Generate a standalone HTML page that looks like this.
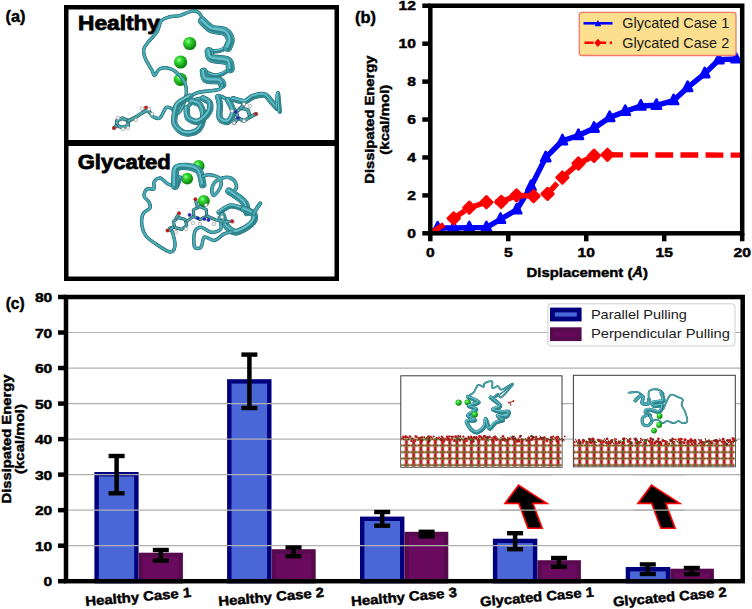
<!DOCTYPE html><html><head><meta charset="utf-8"><style>html,body{margin:0;padding:0;background:#fff;width:752px;height:609px;overflow:hidden}svg{display:block}text{font-family:"Liberation Sans",sans-serif}</style></head><body>
<svg width="752" height="609" viewBox="0 0 752 609">
<text x="5.5" y="21.9" font-size="16" font-weight="bold" fill="#000" text-anchor="start" textLength="20" lengthAdjust="spacingAndGlyphs" stroke="#000" stroke-width="0.45" >(a)</text>
<rect x="66.25" y="7.25" width="270.5" height="271.5" fill="none" stroke="#000" stroke-width="4.5"/>
<rect x="64" y="140" width="275" height="6" fill="#000"/>
<text x="78" y="30.3" font-size="20.5" font-weight="bold" fill="#000" text-anchor="start" textLength="82" lengthAdjust="spacingAndGlyphs" stroke="#000" stroke-width="0.8" >Healthy</text>
<text x="77.7" y="168.9" font-size="20.5" font-weight="bold" fill="#000" text-anchor="start" textLength="93" lengthAdjust="spacingAndGlyphs" stroke="#000" stroke-width="0.8" >Glycated</text>
<defs><radialGradient id="gsph" cx="0.38" cy="0.35" r="0.65"><stop offset="0" stop-color="#aaffaa"/><stop offset="0.3" stop-color="#33dd33"/><stop offset="1" stop-color="#0a7a0a"/></radialGradient></defs>
<circle cx="189.7" cy="43.5" r="6.6" fill="url(#gsph)"/>
<circle cx="180.6" cy="62.0" r="6.6" fill="url(#gsph)"/>
<circle cx="180.4" cy="79.3" r="6.6" fill="url(#gsph)"/>
<path d="M149.2,111.4 C149.9,112.3 151.4,115.6 153.2,116.7 C155.0,117.8 158.0,118.9 159.8,118.0 C161.6,117.1 162.7,113.2 163.8,111.4 C164.9,109.6 165.2,107.9 166.5,107.4 C167.8,107.0 170.2,107.6 171.8,108.7 C173.4,109.8 174.5,113.5 175.8,114.0 C177.1,114.5 178.5,113.2 179.8,111.4 C181.1,109.6 182.7,106.5 183.8,103.4 C184.9,100.3 186.2,96.1 186.4,92.8 C186.6,89.5 186.2,86.4 185.1,83.5 C184.0,80.6 182.2,78.0 179.8,75.5 C177.4,73.0 173.8,69.9 170.5,68.8 C167.2,67.7 162.5,67.7 159.8,68.8 C157.1,69.9 155.8,75.3 154.5,75.5 C153.2,75.7 153.5,73.1 151.9,70.2 C150.3,67.3 146.5,61.8 145.2,58.2 C143.9,54.7 143.2,51.8 143.9,48.9 C144.6,46.0 147.0,43.8 149.2,40.9 C151.4,38.0 155.2,34.9 157.2,31.6 C159.2,28.3 159.2,23.4 161.2,21.0 C163.2,18.6 166.0,17.9 169.1,17.0 C172.2,16.1 176.2,16.5 179.8,15.6 C183.4,14.7 187.5,12.3 190.4,11.6 C193.3,10.9 195.3,10.9 197.1,11.6 C198.9,12.3 200.2,14.0 201.1,15.6 C202.0,17.2 202.2,20.1 202.4,21.0" fill="none" stroke="#1d5e66" stroke-width="3.50" stroke-linecap="round" stroke-linejoin="round"/>
<path d="M149.2,111.4 C149.9,112.3 151.4,115.6 153.2,116.7 C155.0,117.8 158.0,118.9 159.8,118.0 C161.6,117.1 162.7,113.2 163.8,111.4 C164.9,109.6 165.2,107.9 166.5,107.4 C167.8,107.0 170.2,107.6 171.8,108.7 C173.4,109.8 174.5,113.5 175.8,114.0 C177.1,114.5 178.5,113.2 179.8,111.4 C181.1,109.6 182.7,106.5 183.8,103.4 C184.9,100.3 186.2,96.1 186.4,92.8 C186.6,89.5 186.2,86.4 185.1,83.5 C184.0,80.6 182.2,78.0 179.8,75.5 C177.4,73.0 173.8,69.9 170.5,68.8 C167.2,67.7 162.5,67.7 159.8,68.8 C157.1,69.9 155.8,75.3 154.5,75.5 C153.2,75.7 153.5,73.1 151.9,70.2 C150.3,67.3 146.5,61.8 145.2,58.2 C143.9,54.7 143.2,51.8 143.9,48.9 C144.6,46.0 147.0,43.8 149.2,40.9 C151.4,38.0 155.2,34.9 157.2,31.6 C159.2,28.3 159.2,23.4 161.2,21.0 C163.2,18.6 166.0,17.9 169.1,17.0 C172.2,16.1 176.2,16.5 179.8,15.6 C183.4,14.7 187.5,12.3 190.4,11.6 C193.3,10.9 195.3,10.9 197.1,11.6 C198.9,12.3 200.2,14.0 201.1,15.6 C202.0,17.2 202.2,20.1 202.4,21.0" fill="none" stroke="#3fa0aa" stroke-width="2.60" stroke-linecap="round" stroke-linejoin="round"/>
<path d="M149.2,111.4 C149.9,112.3 151.4,115.6 153.2,116.7 C155.0,117.8 158.0,118.9 159.8,118.0 C161.6,117.1 162.7,113.2 163.8,111.4 C164.9,109.6 165.2,107.9 166.5,107.4 C167.8,107.0 170.2,107.6 171.8,108.7 C173.4,109.8 174.5,113.5 175.8,114.0 C177.1,114.5 178.5,113.2 179.8,111.4 C181.1,109.6 182.7,106.5 183.8,103.4 C184.9,100.3 186.2,96.1 186.4,92.8 C186.6,89.5 186.2,86.4 185.1,83.5 C184.0,80.6 182.2,78.0 179.8,75.5 C177.4,73.0 173.8,69.9 170.5,68.8 C167.2,67.7 162.5,67.7 159.8,68.8 C157.1,69.9 155.8,75.3 154.5,75.5 C153.2,75.7 153.5,73.1 151.9,70.2 C150.3,67.3 146.5,61.8 145.2,58.2 C143.9,54.7 143.2,51.8 143.9,48.9 C144.6,46.0 147.0,43.8 149.2,40.9 C151.4,38.0 155.2,34.9 157.2,31.6 C159.2,28.3 159.2,23.4 161.2,21.0 C163.2,18.6 166.0,17.9 169.1,17.0 C172.2,16.1 176.2,16.5 179.8,15.6 C183.4,14.7 187.5,12.3 190.4,11.6 C193.3,10.9 195.3,10.9 197.1,11.6 C198.9,12.3 200.2,14.0 201.1,15.6 C202.0,17.2 202.2,20.1 202.4,21.0" fill="none" stroke="#78d4dc" stroke-width="0.78" stroke-linecap="round" stroke-linejoin="round" opacity="0.5"/>
<path d="M227.7,47.6 C226.1,48.2 221.1,50.4 218.0,51.0 C214.9,51.6 210.5,51.4 209.0,51.5" fill="none" stroke="#1d5e66" stroke-width="4.40" stroke-linecap="round" stroke-linejoin="round"/>
<path d="M227.7,47.6 C226.1,48.2 221.1,50.4 218.0,51.0 C214.9,51.6 210.5,51.4 209.0,51.5" fill="none" stroke="#3fa0aa" stroke-width="3.50" stroke-linecap="round" stroke-linejoin="round"/>
<path d="M227.7,47.6 C226.1,48.2 221.1,50.4 218.0,51.0 C214.9,51.6 210.5,51.4 209.0,51.5" fill="none" stroke="#2a7e87" stroke-width="1.93" stroke-linecap="round" stroke-linejoin="round" transform="translate(0.6,0.8)" opacity="0.8"/>
<path d="M227.7,47.6 C226.1,48.2 221.1,50.4 218.0,51.0 C214.9,51.6 210.5,51.4 209.0,51.5" fill="none" stroke="#78d4dc" stroke-width="0.98" stroke-linecap="round" stroke-linejoin="round" transform="translate(-0.7,-0.9)" opacity="0.75"/>
<path d="M230.3,68.8 C228.9,69.7 224.7,72.9 222.0,74.0 C219.3,75.1 217.5,75.9 214.4,75.5 C211.3,75.1 205.5,72.2 203.7,71.5" fill="none" stroke="#1d5e66" stroke-width="4.40" stroke-linecap="round" stroke-linejoin="round"/>
<path d="M230.3,68.8 C228.9,69.7 224.7,72.9 222.0,74.0 C219.3,75.1 217.5,75.9 214.4,75.5 C211.3,75.1 205.5,72.2 203.7,71.5" fill="none" stroke="#3fa0aa" stroke-width="3.50" stroke-linecap="round" stroke-linejoin="round"/>
<path d="M230.3,68.8 C228.9,69.7 224.7,72.9 222.0,74.0 C219.3,75.1 217.5,75.9 214.4,75.5 C211.3,75.1 205.5,72.2 203.7,71.5" fill="none" stroke="#2a7e87" stroke-width="1.93" stroke-linecap="round" stroke-linejoin="round" transform="translate(0.6,0.8)" opacity="0.8"/>
<path d="M230.3,68.8 C228.9,69.7 224.7,72.9 222.0,74.0 C219.3,75.1 217.5,75.9 214.4,75.5 C211.3,75.1 205.5,72.2 203.7,71.5" fill="none" stroke="#78d4dc" stroke-width="0.98" stroke-linecap="round" stroke-linejoin="round" transform="translate(-0.7,-0.9)" opacity="0.75"/>
<path d="M202.4,21.0 C203.9,22.3 207.9,27.1 211.7,28.9 C215.5,30.7 221.9,29.8 225.0,31.6 C228.1,33.4 229.9,36.9 230.3,39.6 C230.8,42.3 228.1,46.3 227.7,47.6" fill="none" stroke="#1d5e66" stroke-width="8.90" stroke-linecap="round" stroke-linejoin="round"/>
<path d="M202.4,21.0 C203.9,22.3 207.9,27.1 211.7,28.9 C215.5,30.7 221.9,29.8 225.0,31.6 C228.1,33.4 229.9,36.9 230.3,39.6 C230.8,42.3 228.1,46.3 227.7,47.6" fill="none" stroke="#3fa0aa" stroke-width="8.00" stroke-linecap="round" stroke-linejoin="round"/>
<path d="M202.4,21.0 C203.9,22.3 207.9,27.1 211.7,28.9 C215.5,30.7 221.9,29.8 225.0,31.6 C228.1,33.4 229.9,36.9 230.3,39.6 C230.8,42.3 228.1,46.3 227.7,47.6" fill="none" stroke="#2a7e87" stroke-width="4.40" stroke-linecap="round" stroke-linejoin="round" transform="translate(0.6,0.8)" opacity="0.8"/>
<path d="M202.4,21.0 C203.9,22.3 207.9,27.1 211.7,28.9 C215.5,30.7 221.9,29.8 225.0,31.6 C228.1,33.4 229.9,36.9 230.3,39.6 C230.8,42.3 228.1,46.3 227.7,47.6" fill="none" stroke="#78d4dc" stroke-width="2.24" stroke-linecap="round" stroke-linejoin="round" transform="translate(-0.7,-0.9)" opacity="0.75"/>
<path d="M209.0,51.5 C209.4,52.6 208.6,56.6 211.7,58.2 C214.8,59.8 224.6,59.1 227.7,60.9 C230.8,62.7 229.9,67.5 230.3,68.8" fill="none" stroke="#1d5e66" stroke-width="8.90" stroke-linecap="round" stroke-linejoin="round"/>
<path d="M209.0,51.5 C209.4,52.6 208.6,56.6 211.7,58.2 C214.8,59.8 224.6,59.1 227.7,60.9 C230.8,62.7 229.9,67.5 230.3,68.8" fill="none" stroke="#3fa0aa" stroke-width="8.00" stroke-linecap="round" stroke-linejoin="round"/>
<path d="M209.0,51.5 C209.4,52.6 208.6,56.6 211.7,58.2 C214.8,59.8 224.6,59.1 227.7,60.9 C230.8,62.7 229.9,67.5 230.3,68.8" fill="none" stroke="#2a7e87" stroke-width="4.40" stroke-linecap="round" stroke-linejoin="round" transform="translate(0.6,0.8)" opacity="0.8"/>
<path d="M209.0,51.5 C209.4,52.6 208.6,56.6 211.7,58.2 C214.8,59.8 224.6,59.1 227.7,60.9 C230.8,62.7 229.9,67.5 230.3,68.8" fill="none" stroke="#78d4dc" stroke-width="2.24" stroke-linecap="round" stroke-linejoin="round" transform="translate(-0.7,-0.9)" opacity="0.75"/>
<path d="M203.7,71.5 C204.1,72.8 203.7,78.0 206.4,79.5 C209.1,81.0 217.0,79.9 219.7,80.8 C222.3,81.7 221.9,84.1 222.3,84.8" fill="none" stroke="#1d5e66" stroke-width="7.90" stroke-linecap="round" stroke-linejoin="round"/>
<path d="M203.7,71.5 C204.1,72.8 203.7,78.0 206.4,79.5 C209.1,81.0 217.0,79.9 219.7,80.8 C222.3,81.7 221.9,84.1 222.3,84.8" fill="none" stroke="#3fa0aa" stroke-width="7.00" stroke-linecap="round" stroke-linejoin="round"/>
<path d="M203.7,71.5 C204.1,72.8 203.7,78.0 206.4,79.5 C209.1,81.0 217.0,79.9 219.7,80.8 C222.3,81.7 221.9,84.1 222.3,84.8" fill="none" stroke="#2a7e87" stroke-width="3.85" stroke-linecap="round" stroke-linejoin="round" transform="translate(0.6,0.8)" opacity="0.8"/>
<path d="M203.7,71.5 C204.1,72.8 203.7,78.0 206.4,79.5 C209.1,81.0 217.0,79.9 219.7,80.8 C222.3,81.7 221.9,84.1 222.3,84.8" fill="none" stroke="#78d4dc" stroke-width="1.96" stroke-linecap="round" stroke-linejoin="round" transform="translate(-0.7,-0.9)" opacity="0.75"/>
<path d="M222.3,84.8 C221.9,85.5 221.4,88.0 219.9,89.0 C218.4,90.0 216.8,89.9 213.2,90.5 C209.6,91.1 202.1,91.5 198.2,92.5 C194.3,93.5 191.4,95.9 190.0,96.6" fill="none" stroke="#1d5e66" stroke-width="3.70" stroke-linecap="round" stroke-linejoin="round"/>
<path d="M222.3,84.8 C221.9,85.5 221.4,88.0 219.9,89.0 C218.4,90.0 216.8,89.9 213.2,90.5 C209.6,91.1 202.1,91.5 198.2,92.5 C194.3,93.5 191.4,95.9 190.0,96.6" fill="none" stroke="#3fa0aa" stroke-width="2.80" stroke-linecap="round" stroke-linejoin="round"/>
<path d="M222.3,84.8 C221.9,85.5 221.4,88.0 219.9,89.0 C218.4,90.0 216.8,89.9 213.2,90.5 C209.6,91.1 202.1,91.5 198.2,92.5 C194.3,93.5 191.4,95.9 190.0,96.6" fill="none" stroke="#78d4dc" stroke-width="0.84" stroke-linecap="round" stroke-linejoin="round" opacity="0.5"/>
<path d="M203.2,98.3 C201.8,98.6 197.7,98.3 194.9,100.0 C192.1,101.7 188.0,106.9 186.6,108.3" fill="none" stroke="#1d5e66" stroke-width="3.90" stroke-linecap="round" stroke-linejoin="round"/>
<path d="M203.2,98.3 C201.8,98.6 197.7,98.3 194.9,100.0 C192.1,101.7 188.0,106.9 186.6,108.3" fill="none" stroke="#3fa0aa" stroke-width="3.00" stroke-linecap="round" stroke-linejoin="round"/>
<path d="M203.2,98.3 C201.8,98.6 197.7,98.3 194.9,100.0 C192.1,101.7 188.0,106.9 186.6,108.3" fill="none" stroke="#78d4dc" stroke-width="0.90" stroke-linecap="round" stroke-linejoin="round" opacity="0.5"/>
<path d="M228.2,100.0 C227.1,99.4 223.2,97.1 221.5,96.6 C219.8,96.1 218.8,96.9 218.2,97.0" fill="none" stroke="#1d5e66" stroke-width="3.90" stroke-linecap="round" stroke-linejoin="round"/>
<path d="M228.2,100.0 C227.1,99.4 223.2,97.1 221.5,96.6 C219.8,96.1 218.8,96.9 218.2,97.0" fill="none" stroke="#3fa0aa" stroke-width="3.00" stroke-linecap="round" stroke-linejoin="round"/>
<path d="M228.2,100.0 C227.1,99.4 223.2,97.1 221.5,96.6 C219.8,96.1 218.8,96.9 218.2,97.0" fill="none" stroke="#78d4dc" stroke-width="0.90" stroke-linecap="round" stroke-linejoin="round" opacity="0.5"/>
<path d="M190.0,96.6 C188.0,97.8 180.5,101.2 178.0,104.0 C175.5,106.8 175.5,109.7 175.0,113.2 C174.5,116.7 173.3,121.6 175.0,124.9 C176.7,128.2 181.1,132.4 185.0,133.2 C188.9,134.0 195.2,132.7 198.2,129.9 C201.2,127.1 202.9,120.8 203.2,116.6 C203.5,112.4 201.8,107.4 199.9,104.9 C198.0,102.4 193.0,102.1 191.6,101.6" fill="none" stroke="#1d5e66" stroke-width="6.40" stroke-linecap="round" stroke-linejoin="round"/>
<path d="M190.0,96.6 C188.0,97.8 180.5,101.2 178.0,104.0 C175.5,106.8 175.5,109.7 175.0,113.2 C174.5,116.7 173.3,121.6 175.0,124.9 C176.7,128.2 181.1,132.4 185.0,133.2 C188.9,134.0 195.2,132.7 198.2,129.9 C201.2,127.1 202.9,120.8 203.2,116.6 C203.5,112.4 201.8,107.4 199.9,104.9 C198.0,102.4 193.0,102.1 191.6,101.6" fill="none" stroke="#3fa0aa" stroke-width="5.50" stroke-linecap="round" stroke-linejoin="round"/>
<path d="M190.0,96.6 C188.0,97.8 180.5,101.2 178.0,104.0 C175.5,106.8 175.5,109.7 175.0,113.2 C174.5,116.7 173.3,121.6 175.0,124.9 C176.7,128.2 181.1,132.4 185.0,133.2 C188.9,134.0 195.2,132.7 198.2,129.9 C201.2,127.1 202.9,120.8 203.2,116.6 C203.5,112.4 201.8,107.4 199.9,104.9 C198.0,102.4 193.0,102.1 191.6,101.6" fill="none" stroke="#2a7e87" stroke-width="3.03" stroke-linecap="round" stroke-linejoin="round" transform="translate(0.6,0.8)" opacity="0.8"/>
<path d="M190.0,96.6 C188.0,97.8 180.5,101.2 178.0,104.0 C175.5,106.8 175.5,109.7 175.0,113.2 C174.5,116.7 173.3,121.6 175.0,124.9 C176.7,128.2 181.1,132.4 185.0,133.2 C188.9,134.0 195.2,132.7 198.2,129.9 C201.2,127.1 202.9,120.8 203.2,116.6 C203.5,112.4 201.8,107.4 199.9,104.9 C198.0,102.4 193.0,102.1 191.6,101.6" fill="none" stroke="#78d4dc" stroke-width="1.54" stroke-linecap="round" stroke-linejoin="round" transform="translate(-0.7,-0.9)" opacity="0.75"/>
<path d="M186.6,108.3 C186.9,110.0 186.4,116.0 188.3,118.2 C190.2,120.4 194.9,122.4 198.2,121.6 C201.5,120.8 206.2,116.2 208.2,113.2 C210.1,110.2 210.7,105.8 209.9,103.3 C209.1,100.8 204.3,99.1 203.2,98.3" fill="none" stroke="#1d5e66" stroke-width="6.40" stroke-linecap="round" stroke-linejoin="round"/>
<path d="M186.6,108.3 C186.9,110.0 186.4,116.0 188.3,118.2 C190.2,120.4 194.9,122.4 198.2,121.6 C201.5,120.8 206.2,116.2 208.2,113.2 C210.1,110.2 210.7,105.8 209.9,103.3 C209.1,100.8 204.3,99.1 203.2,98.3" fill="none" stroke="#3fa0aa" stroke-width="5.50" stroke-linecap="round" stroke-linejoin="round"/>
<path d="M186.6,108.3 C186.9,110.0 186.4,116.0 188.3,118.2 C190.2,120.4 194.9,122.4 198.2,121.6 C201.5,120.8 206.2,116.2 208.2,113.2 C210.1,110.2 210.7,105.8 209.9,103.3 C209.1,100.8 204.3,99.1 203.2,98.3" fill="none" stroke="#2a7e87" stroke-width="3.03" stroke-linecap="round" stroke-linejoin="round" transform="translate(0.6,0.8)" opacity="0.8"/>
<path d="M186.6,108.3 C186.9,110.0 186.4,116.0 188.3,118.2 C190.2,120.4 194.9,122.4 198.2,121.6 C201.5,120.8 206.2,116.2 208.2,113.2 C210.1,110.2 210.7,105.8 209.9,103.3 C209.1,100.8 204.3,99.1 203.2,98.3" fill="none" stroke="#78d4dc" stroke-width="1.54" stroke-linecap="round" stroke-linejoin="round" transform="translate(-0.7,-0.9)" opacity="0.75"/>
<path d="M218.2,97.0 C218.5,98.3 219.6,101.4 219.9,104.9 C220.2,108.4 218.5,115.4 219.9,118.2 C221.3,121.0 226.0,122.7 228.2,121.6 C230.4,120.5 233.2,115.2 233.2,111.6 C233.2,108.0 229.0,101.9 228.2,100.0" fill="none" stroke="#1d5e66" stroke-width="6.40" stroke-linecap="round" stroke-linejoin="round"/>
<path d="M218.2,97.0 C218.5,98.3 219.6,101.4 219.9,104.9 C220.2,108.4 218.5,115.4 219.9,118.2 C221.3,121.0 226.0,122.7 228.2,121.6 C230.4,120.5 233.2,115.2 233.2,111.6 C233.2,108.0 229.0,101.9 228.2,100.0" fill="none" stroke="#3fa0aa" stroke-width="5.50" stroke-linecap="round" stroke-linejoin="round"/>
<path d="M218.2,97.0 C218.5,98.3 219.6,101.4 219.9,104.9 C220.2,108.4 218.5,115.4 219.9,118.2 C221.3,121.0 226.0,122.7 228.2,121.6 C230.4,120.5 233.2,115.2 233.2,111.6 C233.2,108.0 229.0,101.9 228.2,100.0" fill="none" stroke="#2a7e87" stroke-width="3.03" stroke-linecap="round" stroke-linejoin="round" transform="translate(0.6,0.8)" opacity="0.8"/>
<path d="M218.2,97.0 C218.5,98.3 219.6,101.4 219.9,104.9 C220.2,108.4 218.5,115.4 219.9,118.2 C221.3,121.0 226.0,122.7 228.2,121.6 C230.4,120.5 233.2,115.2 233.2,111.6 C233.2,108.0 229.0,101.9 228.2,100.0" fill="none" stroke="#78d4dc" stroke-width="1.54" stroke-linecap="round" stroke-linejoin="round" transform="translate(-0.7,-0.9)" opacity="0.75"/>
<path d="M233.2,99.0 C235.1,99.4 241.5,102.0 244.8,101.6 C248.1,101.2 249.8,97.7 253.1,96.6 C256.4,95.5 261.6,94.2 264.7,95.0 C267.8,95.8 269.3,99.4 271.4,101.6 C273.4,103.8 276.1,106.9 277.0,108.0" fill="none" stroke="#1d5e66" stroke-width="5.90" stroke-linecap="round" stroke-linejoin="round"/>
<path d="M233.2,99.0 C235.1,99.4 241.5,102.0 244.8,101.6 C248.1,101.2 249.8,97.7 253.1,96.6 C256.4,95.5 261.6,94.2 264.7,95.0 C267.8,95.8 269.3,99.4 271.4,101.6 C273.4,103.8 276.1,106.9 277.0,108.0" fill="none" stroke="#3fa0aa" stroke-width="5.00" stroke-linecap="round" stroke-linejoin="round"/>
<path d="M233.2,99.0 C235.1,99.4 241.5,102.0 244.8,101.6 C248.1,101.2 249.8,97.7 253.1,96.6 C256.4,95.5 261.6,94.2 264.7,95.0 C267.8,95.8 269.3,99.4 271.4,101.6 C273.4,103.8 276.1,106.9 277.0,108.0" fill="none" stroke="#2a7e87" stroke-width="2.75" stroke-linecap="round" stroke-linejoin="round" transform="translate(0.6,0.8)" opacity="0.8"/>
<path d="M233.2,99.0 C235.1,99.4 241.5,102.0 244.8,101.6 C248.1,101.2 249.8,97.7 253.1,96.6 C256.4,95.5 261.6,94.2 264.7,95.0 C267.8,95.8 269.3,99.4 271.4,101.6 C273.4,103.8 276.1,106.9 277.0,108.0" fill="none" stroke="#78d4dc" stroke-width="1.40" stroke-linecap="round" stroke-linejoin="round" transform="translate(-0.7,-0.9)" opacity="0.75"/>
<path d="M277.0,108.0 C277.2,105.5 277.6,92.7 278.0,93.3 C278.4,93.9 279.4,108.5 279.7,111.6" fill="none" stroke="#1d5e66" stroke-width="4.40" stroke-linecap="round" stroke-linejoin="round"/>
<path d="M277.0,108.0 C277.2,105.5 277.6,92.7 278.0,93.3 C278.4,93.9 279.4,108.5 279.7,111.6" fill="none" stroke="#3fa0aa" stroke-width="3.50" stroke-linecap="round" stroke-linejoin="round"/>
<path d="M277.0,108.0 C277.2,105.5 277.6,92.7 278.0,93.3 C278.4,93.9 279.4,108.5 279.7,111.6" fill="none" stroke="#2a7e87" stroke-width="1.93" stroke-linecap="round" stroke-linejoin="round" transform="translate(0.6,0.8)" opacity="0.8"/>
<path d="M277.0,108.0 C277.2,105.5 277.6,92.7 278.0,93.3 C278.4,93.9 279.4,108.5 279.7,111.6" fill="none" stroke="#78d4dc" stroke-width="0.98" stroke-linecap="round" stroke-linejoin="round" transform="translate(-0.7,-0.9)" opacity="0.75"/>
<polyline points="128.2,125.3 122.7,127.8 116.9,125.5 116.8,120.7 122.3,118.2 128.1,120.5 128.2,125.3" fill="none" stroke="#235e64" stroke-width="3.8" stroke-linejoin="round" stroke-linecap="round"/>
<polyline points="128.2,125.3 122.7,127.8 116.9,125.5 116.8,120.7 122.3,118.2 128.1,120.5 128.2,125.3" fill="none" stroke="#4fa8b0" stroke-width="2.4" stroke-linejoin="round" stroke-linecap="round"/>
<polyline points="128.5,121.0 136.0,117.0 142.0,113.0 147.0,110.0 150.0,113.0" fill="none" stroke="#235e64" stroke-width="3.8" stroke-linejoin="round" stroke-linecap="round"/>
<polyline points="128.5,121.0 136.0,117.0 142.0,113.0 147.0,110.0 150.0,113.0" fill="none" stroke="#4fa8b0" stroke-width="2.4" stroke-linejoin="round" stroke-linecap="round"/>
<polyline points="116.0,126.0 114.0,128.0" fill="none" stroke="#235e64" stroke-width="3.8" stroke-linejoin="round" stroke-linecap="round"/>
<polyline points="116.0,126.0 114.0,128.0" fill="none" stroke="#4fa8b0" stroke-width="2.4" stroke-linejoin="round" stroke-linecap="round"/>
<circle cx="114" cy="128" r="1.8" fill="#e01010" stroke="#666" stroke-width="0.4"/>
<circle cx="146" cy="107.5" r="1.8" fill="#e01010" stroke="#666" stroke-width="0.4"/>
<circle cx="142" cy="108.5" r="1.8" fill="#f4f4f4" stroke="#666" stroke-width="0.4"/>
<circle cx="149" cy="109" r="1.8" fill="#f4f4f4" stroke="#666" stroke-width="0.4"/>
<circle cx="128" cy="128" r="1.8" fill="#f4f4f4" stroke="#666" stroke-width="0.4"/>
<circle cx="118" cy="118" r="1.8" fill="#f4f4f4" stroke="#666" stroke-width="0.4"/>
<circle cx="136" cy="120" r="1.8" fill="#f4f4f4" stroke="#666" stroke-width="0.4"/>
<circle cx="152" cy="114" r="1.8" fill="#f4f4f4" stroke="#666" stroke-width="0.4"/>
<circle cx="123" cy="129" r="1.8" fill="#f4f4f4" stroke="#666" stroke-width="0.4"/>
<polyline points="236.0,112.0 241.0,108.0 248.0,110.0 250.0,117.0 244.0,121.0 238.0,118.0 236.0,112.0" fill="none" stroke="#235e64" stroke-width="3.8" stroke-linejoin="round" stroke-linecap="round"/>
<polyline points="236.0,112.0 241.0,108.0 248.0,110.0 250.0,117.0 244.0,121.0 238.0,118.0 236.0,112.0" fill="none" stroke="#4fa8b0" stroke-width="2.4" stroke-linejoin="round" stroke-linecap="round"/>
<polyline points="250.0,117.0 256.0,114.0" fill="none" stroke="#235e64" stroke-width="3.8" stroke-linejoin="round" stroke-linecap="round"/>
<polyline points="250.0,117.0 256.0,114.0" fill="none" stroke="#4fa8b0" stroke-width="2.4" stroke-linejoin="round" stroke-linecap="round"/>
<polyline points="241.0,108.0 244.0,104.0" fill="none" stroke="#235e64" stroke-width="3.8" stroke-linejoin="round" stroke-linecap="round"/>
<polyline points="241.0,108.0 244.0,104.0" fill="none" stroke="#4fa8b0" stroke-width="2.4" stroke-linejoin="round" stroke-linecap="round"/>
<polyline points="238.0,118.0 234.0,123.0" fill="none" stroke="#235e64" stroke-width="3.8" stroke-linejoin="round" stroke-linecap="round"/>
<polyline points="238.0,118.0 234.0,123.0" fill="none" stroke="#4fa8b0" stroke-width="2.4" stroke-linejoin="round" stroke-linecap="round"/>
<circle cx="236" cy="112" r="1.8" fill="#2020d0" stroke="#666" stroke-width="0.4"/>
<circle cx="238" cy="118" r="1.8" fill="#2020d0" stroke="#666" stroke-width="0.4"/>
<circle cx="244" cy="121" r="1.8" fill="#f4f4f4" stroke="#666" stroke-width="0.4"/>
<circle cx="256" cy="114" r="1.8" fill="#e01010" stroke="#666" stroke-width="0.4"/>
<circle cx="244" cy="104" r="1.8" fill="#f4f4f4" stroke="#666" stroke-width="0.4"/>
<circle cx="234" cy="123" r="1.8" fill="#f4f4f4" stroke="#666" stroke-width="0.4"/>
<circle cx="250" cy="106" r="1.8" fill="#f4f4f4" stroke="#666" stroke-width="0.4"/>
<circle cx="232" cy="111" r="1.8" fill="#f4f4f4" stroke="#666" stroke-width="0.4"/>
<circle cx="198.7" cy="165.9" r="5.9" fill="url(#gsph)"/>
<circle cx="187.2" cy="178.6" r="5.9" fill="url(#gsph)"/>
<circle cx="203.8" cy="200.9" r="6.0" fill="url(#gsph)"/>
<path d="M174.9,186.2 C173.8,185.8 170.5,185.4 168.0,184.0 C165.5,182.6 162.3,178.3 160.0,178.0 C157.7,177.7 155.0,180.2 154.0,182.0 C153.0,183.8 155.2,187.8 154.0,189.0 C152.8,190.2 148.7,187.8 147.0,189.0 C145.3,190.2 143.7,193.8 144.0,196.0 C144.3,198.2 148.0,200.0 149.0,202.0 C150.0,204.0 151.0,206.0 150.0,208.0 C149.0,210.0 144.3,211.0 143.0,214.0 C141.7,217.0 141.5,222.3 142.0,226.0 C142.5,229.7 143.7,233.0 146.0,236.0 C148.3,239.0 152.0,241.3 156.0,244.0 C160.0,246.7 166.8,251.7 170.0,252.0 C173.2,252.3 174.5,249.0 175.0,246.0 C175.5,243.0 173.8,237.0 173.0,234.0 C172.2,231.0 170.5,229.0 170.0,228.0" fill="none" stroke="#1d5e66" stroke-width="3.50" stroke-linecap="round" stroke-linejoin="round"/>
<path d="M174.9,186.2 C173.8,185.8 170.5,185.4 168.0,184.0 C165.5,182.6 162.3,178.3 160.0,178.0 C157.7,177.7 155.0,180.2 154.0,182.0 C153.0,183.8 155.2,187.8 154.0,189.0 C152.8,190.2 148.7,187.8 147.0,189.0 C145.3,190.2 143.7,193.8 144.0,196.0 C144.3,198.2 148.0,200.0 149.0,202.0 C150.0,204.0 151.0,206.0 150.0,208.0 C149.0,210.0 144.3,211.0 143.0,214.0 C141.7,217.0 141.5,222.3 142.0,226.0 C142.5,229.7 143.7,233.0 146.0,236.0 C148.3,239.0 152.0,241.3 156.0,244.0 C160.0,246.7 166.8,251.7 170.0,252.0 C173.2,252.3 174.5,249.0 175.0,246.0 C175.5,243.0 173.8,237.0 173.0,234.0 C172.2,231.0 170.5,229.0 170.0,228.0" fill="none" stroke="#3fa0aa" stroke-width="2.60" stroke-linecap="round" stroke-linejoin="round"/>
<path d="M174.9,186.2 C173.8,185.8 170.5,185.4 168.0,184.0 C165.5,182.6 162.3,178.3 160.0,178.0 C157.7,177.7 155.0,180.2 154.0,182.0 C153.0,183.8 155.2,187.8 154.0,189.0 C152.8,190.2 148.7,187.8 147.0,189.0 C145.3,190.2 143.7,193.8 144.0,196.0 C144.3,198.2 148.0,200.0 149.0,202.0 C150.0,204.0 151.0,206.0 150.0,208.0 C149.0,210.0 144.3,211.0 143.0,214.0 C141.7,217.0 141.5,222.3 142.0,226.0 C142.5,229.7 143.7,233.0 146.0,236.0 C148.3,239.0 152.0,241.3 156.0,244.0 C160.0,246.7 166.8,251.7 170.0,252.0 C173.2,252.3 174.5,249.0 175.0,246.0 C175.5,243.0 173.8,237.0 173.0,234.0 C172.2,231.0 170.5,229.0 170.0,228.0" fill="none" stroke="#78d4dc" stroke-width="0.78" stroke-linecap="round" stroke-linejoin="round" opacity="0.5"/>
<path d="M176.5,186.2 C177.1,184.8 179.2,179.4 179.8,178.0" fill="none" stroke="#1d5e66" stroke-width="5.40" stroke-linecap="round" stroke-linejoin="round"/>
<path d="M176.5,186.2 C177.1,184.8 179.2,179.4 179.8,178.0" fill="none" stroke="#3fa0aa" stroke-width="4.50" stroke-linecap="round" stroke-linejoin="round"/>
<path d="M176.5,186.2 C177.1,184.8 179.2,179.4 179.8,178.0" fill="none" stroke="#2a7e87" stroke-width="2.48" stroke-linecap="round" stroke-linejoin="round" transform="translate(0.6,0.8)" opacity="0.8"/>
<path d="M176.5,186.2 C177.1,184.8 179.2,179.4 179.8,178.0" fill="none" stroke="#78d4dc" stroke-width="1.26" stroke-linecap="round" stroke-linejoin="round" transform="translate(-0.7,-0.9)" opacity="0.75"/>
<path d="M174.9,186.2 C174.9,184.5 174.7,179.0 175.0,176.0 C175.3,173.0 174.6,169.7 176.5,168.1 C178.4,166.5 182.8,166.2 186.3,166.5 C189.9,166.8 195.3,168.2 197.8,169.8 C200.3,171.4 200.3,173.8 201.1,176.3 C201.9,178.8 202.5,183.2 202.8,184.6" fill="none" stroke="#1d5e66" stroke-width="7.40" stroke-linecap="round" stroke-linejoin="round"/>
<path d="M174.9,186.2 C174.9,184.5 174.7,179.0 175.0,176.0 C175.3,173.0 174.6,169.7 176.5,168.1 C178.4,166.5 182.8,166.2 186.3,166.5 C189.9,166.8 195.3,168.2 197.8,169.8 C200.3,171.4 200.3,173.8 201.1,176.3 C201.9,178.8 202.5,183.2 202.8,184.6" fill="none" stroke="#3fa0aa" stroke-width="6.50" stroke-linecap="round" stroke-linejoin="round"/>
<path d="M174.9,186.2 C174.9,184.5 174.7,179.0 175.0,176.0 C175.3,173.0 174.6,169.7 176.5,168.1 C178.4,166.5 182.8,166.2 186.3,166.5 C189.9,166.8 195.3,168.2 197.8,169.8 C200.3,171.4 200.3,173.8 201.1,176.3 C201.9,178.8 202.5,183.2 202.8,184.6" fill="none" stroke="#2a7e87" stroke-width="3.58" stroke-linecap="round" stroke-linejoin="round" transform="translate(0.6,0.8)" opacity="0.8"/>
<path d="M174.9,186.2 C174.9,184.5 174.7,179.0 175.0,176.0 C175.3,173.0 174.6,169.7 176.5,168.1 C178.4,166.5 182.8,166.2 186.3,166.5 C189.9,166.8 195.3,168.2 197.8,169.8 C200.3,171.4 200.3,173.8 201.1,176.3 C201.9,178.8 202.5,183.2 202.8,184.6" fill="none" stroke="#78d4dc" stroke-width="1.82" stroke-linecap="round" stroke-linejoin="round" transform="translate(-0.7,-0.9)" opacity="0.75"/>
<path d="M202.8,176.3 C203.9,176.0 206.6,174.4 209.3,174.7 C212.0,175.0 217.3,176.1 219.2,178.0 C221.1,179.9 221.6,183.3 220.8,186.2 C220.0,189.1 215.8,194.4 214.3,195.2 C212.8,196.0 211.8,193.1 211.8,191.1 C211.8,189.1 212.5,185.1 214.3,182.9 C216.1,180.7 219.8,178.8 222.5,178.0 C225.2,177.2 228.5,177.2 230.7,178.0 C232.9,178.8 234.8,181.0 235.6,182.9 C236.4,184.8 236.7,188.1 235.6,189.5 C234.5,190.9 230.1,190.8 229.0,191.1" fill="none" stroke="#1d5e66" stroke-width="3.50" stroke-linecap="round" stroke-linejoin="round"/>
<path d="M202.8,176.3 C203.9,176.0 206.6,174.4 209.3,174.7 C212.0,175.0 217.3,176.1 219.2,178.0 C221.1,179.9 221.6,183.3 220.8,186.2 C220.0,189.1 215.8,194.4 214.3,195.2 C212.8,196.0 211.8,193.1 211.8,191.1 C211.8,189.1 212.5,185.1 214.3,182.9 C216.1,180.7 219.8,178.8 222.5,178.0 C225.2,177.2 228.5,177.2 230.7,178.0 C232.9,178.8 234.8,181.0 235.6,182.9 C236.4,184.8 236.7,188.1 235.6,189.5 C234.5,190.9 230.1,190.8 229.0,191.1" fill="none" stroke="#3fa0aa" stroke-width="2.60" stroke-linecap="round" stroke-linejoin="round"/>
<path d="M202.8,176.3 C203.9,176.0 206.6,174.4 209.3,174.7 C212.0,175.0 217.3,176.1 219.2,178.0 C221.1,179.9 221.6,183.3 220.8,186.2 C220.0,189.1 215.8,194.4 214.3,195.2 C212.8,196.0 211.8,193.1 211.8,191.1 C211.8,189.1 212.5,185.1 214.3,182.9 C216.1,180.7 219.8,178.8 222.5,178.0 C225.2,177.2 228.5,177.2 230.7,178.0 C232.9,178.8 234.8,181.0 235.6,182.9 C236.4,184.8 236.7,188.1 235.6,189.5 C234.5,190.9 230.1,190.8 229.0,191.1" fill="none" stroke="#78d4dc" stroke-width="0.78" stroke-linecap="round" stroke-linejoin="round" opacity="0.5"/>
<path d="M219.2,212.5 C221.1,211.4 226.6,206.5 230.7,205.9 C234.8,205.3 241.6,208.6 243.8,209.2" fill="none" stroke="#1d5e66" stroke-width="5.40" stroke-linecap="round" stroke-linejoin="round"/>
<path d="M219.2,212.5 C221.1,211.4 226.6,206.5 230.7,205.9 C234.8,205.3 241.6,208.6 243.8,209.2" fill="none" stroke="#3fa0aa" stroke-width="4.50" stroke-linecap="round" stroke-linejoin="round"/>
<path d="M219.2,212.5 C221.1,211.4 226.6,206.5 230.7,205.9 C234.8,205.3 241.6,208.6 243.8,209.2" fill="none" stroke="#2a7e87" stroke-width="2.48" stroke-linecap="round" stroke-linejoin="round" transform="translate(0.6,0.8)" opacity="0.8"/>
<path d="M219.2,212.5 C221.1,211.4 226.6,206.5 230.7,205.9 C234.8,205.3 241.6,208.6 243.8,209.2" fill="none" stroke="#78d4dc" stroke-width="1.26" stroke-linecap="round" stroke-linejoin="round" transform="translate(-0.7,-0.9)" opacity="0.75"/>
<path d="M229.0,191.1 C230.7,192.2 236.2,195.5 238.9,197.7 C241.7,199.9 244.1,201.8 245.5,204.3 C246.9,206.8 246.8,211.1 247.1,212.5" fill="none" stroke="#1d5e66" stroke-width="7.40" stroke-linecap="round" stroke-linejoin="round"/>
<path d="M229.0,191.1 C230.7,192.2 236.2,195.5 238.9,197.7 C241.7,199.9 244.1,201.8 245.5,204.3 C246.9,206.8 246.8,211.1 247.1,212.5" fill="none" stroke="#3fa0aa" stroke-width="6.50" stroke-linecap="round" stroke-linejoin="round"/>
<path d="M229.0,191.1 C230.7,192.2 236.2,195.5 238.9,197.7 C241.7,199.9 244.1,201.8 245.5,204.3 C246.9,206.8 246.8,211.1 247.1,212.5" fill="none" stroke="#2a7e87" stroke-width="3.58" stroke-linecap="round" stroke-linejoin="round" transform="translate(0.6,0.8)" opacity="0.8"/>
<path d="M229.0,191.1 C230.7,192.2 236.2,195.5 238.9,197.7 C241.7,199.9 244.1,201.8 245.5,204.3 C246.9,206.8 246.8,211.1 247.1,212.5" fill="none" stroke="#78d4dc" stroke-width="1.82" stroke-linecap="round" stroke-linejoin="round" transform="translate(-0.7,-0.9)" opacity="0.75"/>
<path d="M243.8,209.2 C245.5,210.0 252.0,212.2 253.7,214.1 C255.3,216.0 254.8,218.5 253.7,220.7 C252.6,222.9 250.1,225.3 247.1,227.2 C244.1,229.1 238.9,232.2 235.6,232.2 C232.3,232.2 229.3,229.1 227.4,227.2 C225.5,225.3 224.9,222.6 224.1,220.7 C223.3,218.8 222.8,216.6 222.5,215.8" fill="none" stroke="#1d5e66" stroke-width="6.90" stroke-linecap="round" stroke-linejoin="round"/>
<path d="M243.8,209.2 C245.5,210.0 252.0,212.2 253.7,214.1 C255.3,216.0 254.8,218.5 253.7,220.7 C252.6,222.9 250.1,225.3 247.1,227.2 C244.1,229.1 238.9,232.2 235.6,232.2 C232.3,232.2 229.3,229.1 227.4,227.2 C225.5,225.3 224.9,222.6 224.1,220.7 C223.3,218.8 222.8,216.6 222.5,215.8" fill="none" stroke="#3fa0aa" stroke-width="6.00" stroke-linecap="round" stroke-linejoin="round"/>
<path d="M243.8,209.2 C245.5,210.0 252.0,212.2 253.7,214.1 C255.3,216.0 254.8,218.5 253.7,220.7 C252.6,222.9 250.1,225.3 247.1,227.2 C244.1,229.1 238.9,232.2 235.6,232.2 C232.3,232.2 229.3,229.1 227.4,227.2 C225.5,225.3 224.9,222.6 224.1,220.7 C223.3,218.8 222.8,216.6 222.5,215.8" fill="none" stroke="#2a7e87" stroke-width="3.30" stroke-linecap="round" stroke-linejoin="round" transform="translate(0.6,0.8)" opacity="0.8"/>
<path d="M243.8,209.2 C245.5,210.0 252.0,212.2 253.7,214.1 C255.3,216.0 254.8,218.5 253.7,220.7 C252.6,222.9 250.1,225.3 247.1,227.2 C244.1,229.1 238.9,232.2 235.6,232.2 C232.3,232.2 229.3,229.1 227.4,227.2 C225.5,225.3 224.9,222.6 224.1,220.7 C223.3,218.8 222.8,216.6 222.5,215.8" fill="none" stroke="#78d4dc" stroke-width="1.68" stroke-linecap="round" stroke-linejoin="round" transform="translate(-0.7,-0.9)" opacity="0.75"/>
<path d="M253.7,213.5 C254.2,212.6 255.9,209.7 257.0,208.0 C258.1,206.3 259.7,204.2 260.2,203.5" fill="none" stroke="#1d5e66" stroke-width="4.10" stroke-linecap="round" stroke-linejoin="round"/>
<path d="M253.7,213.5 C254.2,212.6 255.9,209.7 257.0,208.0 C258.1,206.3 259.7,204.2 260.2,203.5" fill="none" stroke="#3fa0aa" stroke-width="3.20" stroke-linecap="round" stroke-linejoin="round"/>
<path d="M253.7,213.5 C254.2,212.6 255.9,209.7 257.0,208.0 C258.1,206.3 259.7,204.2 260.2,203.5" fill="none" stroke="#78d4dc" stroke-width="0.96" stroke-linecap="round" stroke-linejoin="round" opacity="0.5"/>
<path d="M219.2,217.4 C219.5,219.3 222.2,226.4 220.8,228.9 C219.4,231.4 214.3,232.5 211.0,232.2 C207.7,231.9 203.8,227.2 201.1,227.2 C198.4,227.2 195.7,228.9 194.6,232.2 C193.5,235.5 193.5,244.5 194.6,247.0 C195.7,249.5 199.5,248.7 201.1,247.0 C202.7,245.3 202.2,238.2 204.4,237.1 C206.6,236.0 211.0,240.9 214.3,240.4 C217.6,239.9 221.2,235.2 224.1,233.8 C227.0,232.4 230.7,232.3 232.0,232.0" fill="none" stroke="#1d5e66" stroke-width="3.50" stroke-linecap="round" stroke-linejoin="round"/>
<path d="M219.2,217.4 C219.5,219.3 222.2,226.4 220.8,228.9 C219.4,231.4 214.3,232.5 211.0,232.2 C207.7,231.9 203.8,227.2 201.1,227.2 C198.4,227.2 195.7,228.9 194.6,232.2 C193.5,235.5 193.5,244.5 194.6,247.0 C195.7,249.5 199.5,248.7 201.1,247.0 C202.7,245.3 202.2,238.2 204.4,237.1 C206.6,236.0 211.0,240.9 214.3,240.4 C217.6,239.9 221.2,235.2 224.1,233.8 C227.0,232.4 230.7,232.3 232.0,232.0" fill="none" stroke="#3fa0aa" stroke-width="2.60" stroke-linecap="round" stroke-linejoin="round"/>
<path d="M219.2,217.4 C219.5,219.3 222.2,226.4 220.8,228.9 C219.4,231.4 214.3,232.5 211.0,232.2 C207.7,231.9 203.8,227.2 201.1,227.2 C198.4,227.2 195.7,228.9 194.6,232.2 C193.5,235.5 193.5,244.5 194.6,247.0 C195.7,249.5 199.5,248.7 201.1,247.0 C202.7,245.3 202.2,238.2 204.4,237.1 C206.6,236.0 211.0,240.9 214.3,240.4 C217.6,239.9 221.2,235.2 224.1,233.8 C227.0,232.4 230.7,232.3 232.0,232.0" fill="none" stroke="#78d4dc" stroke-width="0.78" stroke-linecap="round" stroke-linejoin="round" opacity="0.5"/>
<polyline points="186.7,225.3 181.6,229.4 174.9,227.6 173.3,221.7 178.4,217.6 185.1,219.4 186.7,225.3" fill="none" stroke="#235e64" stroke-width="3.2" stroke-linejoin="round" stroke-linecap="round"/>
<polyline points="186.7,225.3 181.6,229.4 174.9,227.6 173.3,221.7 178.4,217.6 185.1,219.4 186.7,225.3" fill="none" stroke="#4fa8b0" stroke-width="1.7999999999999998" stroke-linejoin="round" stroke-linecap="round"/>
<polyline points="206.6,216.1 200.2,219.5 193.6,216.4 193.4,209.9 199.8,206.5 206.4,209.6 206.6,216.1" fill="none" stroke="#235e64" stroke-width="3.2" stroke-linejoin="round" stroke-linecap="round"/>
<polyline points="206.6,216.1 200.2,219.5 193.6,216.4 193.4,209.9 199.8,206.5 206.4,209.6 206.6,216.1" fill="none" stroke="#4fa8b0" stroke-width="1.7999999999999998" stroke-linejoin="round" stroke-linecap="round"/>
<polyline points="187.0,221.0 193.0,217.0" fill="none" stroke="#235e64" stroke-width="3.2" stroke-linejoin="round" stroke-linecap="round"/>
<polyline points="187.0,221.0 193.0,217.0" fill="none" stroke="#4fa8b0" stroke-width="1.7999999999999998" stroke-linejoin="round" stroke-linecap="round"/>
<polyline points="207.0,216.0 216.0,220.0 226.0,222.0 232.0,221.0" fill="none" stroke="#235e64" stroke-width="3.2" stroke-linejoin="round" stroke-linecap="round"/>
<polyline points="207.0,216.0 216.0,220.0 226.0,222.0 232.0,221.0" fill="none" stroke="#4fa8b0" stroke-width="1.7999999999999998" stroke-linejoin="round" stroke-linecap="round"/>
<polyline points="173.0,227.0 170.0,230.0 167.5,230.5" fill="none" stroke="#235e64" stroke-width="3.2" stroke-linejoin="round" stroke-linecap="round"/>
<polyline points="173.0,227.0 170.0,230.0 167.5,230.5" fill="none" stroke="#4fa8b0" stroke-width="1.7999999999999998" stroke-linejoin="round" stroke-linecap="round"/>
<polyline points="197.0,206.0 195.4,199.3" fill="none" stroke="#235e64" stroke-width="3.2" stroke-linejoin="round" stroke-linecap="round"/>
<polyline points="197.0,206.0 195.4,199.3" fill="none" stroke="#4fa8b0" stroke-width="1.7999999999999998" stroke-linejoin="round" stroke-linecap="round"/>
<polyline points="176.0,218.0 179.0,213.3" fill="none" stroke="#235e64" stroke-width="3.2" stroke-linejoin="round" stroke-linecap="round"/>
<polyline points="176.0,218.0 179.0,213.3" fill="none" stroke="#4fa8b0" stroke-width="1.7999999999999998" stroke-linejoin="round" stroke-linecap="round"/>
<circle cx="167.5" cy="230.5" r="1.8" fill="#e01010" stroke="#666" stroke-width="0.4"/>
<circle cx="179" cy="213.3" r="1.8" fill="#e01010" stroke="#666" stroke-width="0.4"/>
<circle cx="195.4" cy="199.3" r="1.8" fill="#e01010" stroke="#666" stroke-width="0.4"/>
<circle cx="232.3" cy="221.5" r="1.8" fill="#e01010" stroke="#666" stroke-width="0.4"/>
<circle cx="189.6" cy="215" r="1.8" fill="#2020d0" stroke="#666" stroke-width="0.4"/>
<circle cx="197.8" cy="218.2" r="1.8" fill="#2020d0" stroke="#666" stroke-width="0.4"/>
<circle cx="204.4" cy="219" r="1.8" fill="#2020d0" stroke="#666" stroke-width="0.4"/>
<circle cx="208.5" cy="219.9" r="1.8" fill="#2020d0" stroke="#666" stroke-width="0.4"/>
<circle cx="193" cy="223" r="1.8" fill="#f4f4f4" stroke="#666" stroke-width="0.4"/>
<circle cx="200" cy="224" r="1.8" fill="#f4f4f4" stroke="#666" stroke-width="0.4"/>
<circle cx="186" cy="229" r="1.8" fill="#f4f4f4" stroke="#666" stroke-width="0.4"/>
<circle cx="222" cy="217" r="1.8" fill="#f4f4f4" stroke="#666" stroke-width="0.4"/>
<circle cx="206" cy="205" r="1.8" fill="#f4f4f4" stroke="#666" stroke-width="0.4"/>
<circle cx="176" cy="232" r="1.8" fill="#f4f4f4" stroke="#666" stroke-width="0.4"/>
<circle cx="214" cy="224" r="1.8" fill="#f4f4f4" stroke="#666" stroke-width="0.4"/>
<text x="355" y="22.5" font-size="16" font-weight="bold" fill="#000" text-anchor="start" textLength="21" lengthAdjust="spacingAndGlyphs" stroke="#000" stroke-width="0.45" >(b)</text>
<line x1="422.3" y1="233.30" x2="430.3" y2="233.30" stroke="#000" stroke-width="4.5"/>
<text x="416" y="237.9" font-size="12.5" font-weight="bold" fill="#000" text-anchor="end" textLength="8.7" lengthAdjust="spacingAndGlyphs" stroke="#000" stroke-width="0.45" >0</text>
<line x1="422.3" y1="195.38" x2="430.3" y2="195.38" stroke="#000" stroke-width="4.5"/>
<text x="416" y="199.975" font-size="12.5" font-weight="bold" fill="#000" text-anchor="end" textLength="8.7" lengthAdjust="spacingAndGlyphs" stroke="#000" stroke-width="0.45" >2</text>
<line x1="422.3" y1="157.45" x2="430.3" y2="157.45" stroke="#000" stroke-width="4.5"/>
<text x="416" y="162.04999999999998" font-size="12.5" font-weight="bold" fill="#000" text-anchor="end" textLength="8.7" lengthAdjust="spacingAndGlyphs" stroke="#000" stroke-width="0.45" >4</text>
<line x1="422.3" y1="119.52" x2="430.3" y2="119.52" stroke="#000" stroke-width="4.5"/>
<text x="416" y="124.12499999999999" font-size="12.5" font-weight="bold" fill="#000" text-anchor="end" textLength="8.7" lengthAdjust="spacingAndGlyphs" stroke="#000" stroke-width="0.45" >6</text>
<line x1="422.3" y1="81.60" x2="430.3" y2="81.60" stroke="#000" stroke-width="4.5"/>
<text x="416" y="86.19999999999999" font-size="12.5" font-weight="bold" fill="#000" text-anchor="end" textLength="8.7" lengthAdjust="spacingAndGlyphs" stroke="#000" stroke-width="0.45" >8</text>
<line x1="422.3" y1="43.68" x2="430.3" y2="43.68" stroke="#000" stroke-width="4.5"/>
<text x="416" y="48.27500000000001" font-size="12.5" font-weight="bold" fill="#000" text-anchor="end" textLength="17.4" lengthAdjust="spacingAndGlyphs" stroke="#000" stroke-width="0.45" >10</text>
<line x1="422.3" y1="5.75" x2="430.3" y2="5.75" stroke="#000" stroke-width="4.5"/>
<text x="416" y="10.349999999999971" font-size="12.5" font-weight="bold" fill="#000" text-anchor="end" textLength="17.4" lengthAdjust="spacingAndGlyphs" stroke="#000" stroke-width="0.45" >12</text>
<line x1="430.30" y1="233.3" x2="430.30" y2="241.3" stroke="#000" stroke-width="4.5"/>
<text x="430.3" y="256.8" font-size="12.5" font-weight="bold" fill="#000" text-anchor="middle" textLength="8.7" lengthAdjust="spacingAndGlyphs" stroke="#000" stroke-width="0.45" >0</text>
<line x1="508.28" y1="233.3" x2="508.28" y2="241.3" stroke="#000" stroke-width="4.5"/>
<text x="508.27500000000003" y="256.8" font-size="12.5" font-weight="bold" fill="#000" text-anchor="middle" textLength="8.7" lengthAdjust="spacingAndGlyphs" stroke="#000" stroke-width="0.45" >5</text>
<line x1="586.25" y1="233.3" x2="586.25" y2="241.3" stroke="#000" stroke-width="4.5"/>
<text x="586.25" y="256.8" font-size="12.5" font-weight="bold" fill="#000" text-anchor="middle" textLength="17.4" lengthAdjust="spacingAndGlyphs" stroke="#000" stroke-width="0.45" >10</text>
<line x1="664.23" y1="233.3" x2="664.23" y2="241.3" stroke="#000" stroke-width="4.5"/>
<text x="664.225" y="256.8" font-size="12.5" font-weight="bold" fill="#000" text-anchor="middle" textLength="17.4" lengthAdjust="spacingAndGlyphs" stroke="#000" stroke-width="0.45" >15</text>
<line x1="742.20" y1="233.3" x2="742.20" y2="241.3" stroke="#000" stroke-width="4.5"/>
<text x="742.2" y="256.8" font-size="12.5" font-weight="bold" fill="#000" text-anchor="middle" textLength="17.4" lengthAdjust="spacingAndGlyphs" stroke="#000" stroke-width="0.45" >20</text>
<text x="587.3" y="277.3" font-size="13.5" font-weight="bold" fill="#000" text-anchor="middle" textLength="121.6" lengthAdjust="spacingAndGlyphs" stroke="#000" stroke-width="0.45" >Displacement (<tspan font-style="italic">Å</tspan>)</text>
<text transform="translate(374.3,119.7) rotate(-90)" x="0" y="0" font-size="13.5" font-weight="bold" stroke="#000" stroke-width="0.45" text-anchor="middle" textLength="128" lengthAdjust="spacingAndGlyphs">Dissipated Energy</text>
<text transform="translate(389.2,119.7) rotate(-90)" x="0" y="0" font-size="13.5" font-weight="bold" stroke="#000" stroke-width="0.45" text-anchor="middle" textLength="70" lengthAdjust="spacingAndGlyphs">(kcal/mol)</text>
<clipPath id="cb"><rect x="430.3" y="5.75" width="311.90000000000003" height="227.55"/></clipPath>
<g clip-path="url(#cb)">
<polyline points="430.30,233.30 437.63,227.99 453.69,227.99 469.29,227.61 486.44,227.61 500.48,219.27 516.70,209.79 531.04,186.46 545.70,157.64 562.39,140.76 578.45,135.45 594.05,128.25 609.64,117.44 625.24,111.37 640.83,106.06 656.43,105.30 673.58,100.56 687.62,87.48 704.77,73.64 718.81,59.79 735.96,58.84" fill="none" stroke="#00f" stroke-width="5.4" stroke-linejoin="round"/>
<path d="M437.63,222.19 L442.23,231.44 L433.03,231.44Z" fill="#00f" stroke="#00f" stroke-width="2.6" stroke-linejoin="round"/>
<path d="M453.69,222.19 L458.29,231.44 L449.09,231.44Z" fill="#00f" stroke="#00f" stroke-width="2.6" stroke-linejoin="round"/>
<path d="M469.29,221.81 L473.89,231.06 L464.69,231.06Z" fill="#00f" stroke="#00f" stroke-width="2.6" stroke-linejoin="round"/>
<path d="M486.44,221.81 L491.04,231.06 L481.84,231.06Z" fill="#00f" stroke="#00f" stroke-width="2.6" stroke-linejoin="round"/>
<path d="M500.48,213.47 L505.08,222.72 L495.88,222.72Z" fill="#00f" stroke="#00f" stroke-width="2.6" stroke-linejoin="round"/>
<path d="M516.70,203.99 L521.30,213.24 L512.10,213.24Z" fill="#00f" stroke="#00f" stroke-width="2.6" stroke-linejoin="round"/>
<path d="M531.04,180.66 L535.64,189.91 L526.44,189.91Z" fill="#00f" stroke="#00f" stroke-width="2.6" stroke-linejoin="round"/>
<path d="M545.70,151.84 L550.30,161.09 L541.10,161.09Z" fill="#00f" stroke="#00f" stroke-width="2.6" stroke-linejoin="round"/>
<path d="M562.39,134.96 L566.99,144.21 L557.79,144.21Z" fill="#00f" stroke="#00f" stroke-width="2.6" stroke-linejoin="round"/>
<path d="M578.45,129.65 L583.05,138.90 L573.85,138.90Z" fill="#00f" stroke="#00f" stroke-width="2.6" stroke-linejoin="round"/>
<path d="M594.05,122.45 L598.65,131.70 L589.45,131.70Z" fill="#00f" stroke="#00f" stroke-width="2.6" stroke-linejoin="round"/>
<path d="M609.64,111.64 L614.24,120.89 L605.04,120.89Z" fill="#00f" stroke="#00f" stroke-width="2.6" stroke-linejoin="round"/>
<path d="M625.24,105.57 L629.84,114.82 L620.64,114.82Z" fill="#00f" stroke="#00f" stroke-width="2.6" stroke-linejoin="round"/>
<path d="M640.83,100.26 L645.43,109.51 L636.23,109.51Z" fill="#00f" stroke="#00f" stroke-width="2.6" stroke-linejoin="round"/>
<path d="M656.43,99.50 L661.03,108.75 L651.83,108.75Z" fill="#00f" stroke="#00f" stroke-width="2.6" stroke-linejoin="round"/>
<path d="M673.58,94.76 L678.18,104.01 L668.98,104.01Z" fill="#00f" stroke="#00f" stroke-width="2.6" stroke-linejoin="round"/>
<path d="M687.62,81.68 L692.22,90.93 L683.02,90.93Z" fill="#00f" stroke="#00f" stroke-width="2.6" stroke-linejoin="round"/>
<path d="M704.77,67.84 L709.37,77.09 L700.17,77.09Z" fill="#00f" stroke="#00f" stroke-width="2.6" stroke-linejoin="round"/>
<path d="M718.81,53.99 L723.41,63.24 L714.21,63.24Z" fill="#00f" stroke="#00f" stroke-width="2.6" stroke-linejoin="round"/>
<path d="M735.96,53.04 L740.56,62.30 L731.36,62.30Z" fill="#00f" stroke="#00f" stroke-width="2.6" stroke-linejoin="round"/>
<polyline points="430.30,233.30 453.69,218.32 469.29,207.70 486.44,202.20 501.26,201.82 516.54,195.38 533.54,196.13 547.57,193.86 562.39,177.55 578.45,163.52 594.05,155.74 607.46,154.80 745.32,155.17" fill="none" stroke="#f00" stroke-width="5.4" stroke-dasharray="17.8,7.3" stroke-dashoffset="1.57" stroke-linejoin="round"/>
<path d="M453.69,212.72 L459.29,218.32 L453.69,223.92 L448.09,218.32Z" fill="#f00" stroke="#f00" stroke-width="3" stroke-linejoin="round"/>
<path d="M469.29,202.10 L474.89,207.70 L469.29,213.30 L463.69,207.70Z" fill="#f00" stroke="#f00" stroke-width="3" stroke-linejoin="round"/>
<path d="M486.44,196.60 L492.04,202.20 L486.44,207.80 L480.84,202.20Z" fill="#f00" stroke="#f00" stroke-width="3" stroke-linejoin="round"/>
<path d="M501.26,196.22 L506.86,201.82 L501.26,207.42 L495.66,201.82Z" fill="#f00" stroke="#f00" stroke-width="3" stroke-linejoin="round"/>
<path d="M516.54,189.78 L522.14,195.38 L516.54,200.97 L510.94,195.38Z" fill="#f00" stroke="#f00" stroke-width="3" stroke-linejoin="round"/>
<path d="M533.54,190.53 L539.14,196.13 L533.54,201.73 L527.94,196.13Z" fill="#f00" stroke="#f00" stroke-width="3" stroke-linejoin="round"/>
<path d="M547.57,188.26 L553.17,193.86 L547.57,199.46 L541.97,193.86Z" fill="#f00" stroke="#f00" stroke-width="3" stroke-linejoin="round"/>
<path d="M562.39,171.95 L567.99,177.55 L562.39,183.15 L556.79,177.55Z" fill="#f00" stroke="#f00" stroke-width="3" stroke-linejoin="round"/>
<path d="M578.45,157.92 L584.05,163.52 L578.45,169.12 L572.85,163.52Z" fill="#f00" stroke="#f00" stroke-width="3" stroke-linejoin="round"/>
<path d="M594.05,150.14 L599.65,155.74 L594.05,161.34 L588.45,155.74Z" fill="#f00" stroke="#f00" stroke-width="3" stroke-linejoin="round"/>
<path d="M607.46,149.20 L613.06,154.80 L607.46,160.40 L601.86,154.80Z" fill="#f00" stroke="#f00" stroke-width="3" stroke-linejoin="round"/>
</g>
<rect x="430.3" y="5.75" width="311.90000000000003" height="227.55" fill="none" stroke="#000" stroke-width="4.5"/>
<rect x="579.3" y="12.3" width="156.7" height="43.2" rx="2.5" fill="#fbdf8e" stroke="#f37a6a" stroke-width="1.3"/>
<line x1="583.5" y1="23.3" x2="612.5" y2="23.3" stroke="#00f" stroke-width="2.6"/>
<path d="M597.9,19.9 L601.2,26.3 L594.6,26.3Z" fill="#00f"/>
<line x1="584.5" y1="42.8" x2="612" y2="42.8" stroke="#f00" stroke-width="2.6" stroke-dasharray="9,3.6"/>
<path d="M597.9,38.7 L601.6,42.8 L597.9,46.9 L594.2,42.8Z" fill="#f00"/>
<text x="622.2" y="28.2" font-size="14.2" font-weight="normal" fill="#1a1a1a" text-anchor="start" textLength="107" lengthAdjust="spacingAndGlyphs" >Glycated Case 1</text>
<text x="622.2" y="47.6" font-size="14.2" font-weight="normal" fill="#1a1a1a" text-anchor="start" textLength="107" lengthAdjust="spacingAndGlyphs" >Glycated Case 2</text>
<text x="5.7" y="309" font-size="16" font-weight="bold" fill="#000" text-anchor="start" textLength="19" lengthAdjust="spacingAndGlyphs" stroke="#000" stroke-width="0.45" >(c)</text>
<line x1="58" y1="581.20" x2="66" y2="581.20" stroke="#000" stroke-width="4.5"/>
<text x="52.3" y="586.2" font-size="12.5" font-weight="bold" fill="#000" text-anchor="end" textLength="8.7" lengthAdjust="spacingAndGlyphs" stroke="#000" stroke-width="0.45" >0</text>
<line x1="58" y1="545.68" x2="66" y2="545.68" stroke="#000" stroke-width="4.5"/>
<text x="52.3" y="550.6750000000001" font-size="12.5" font-weight="bold" fill="#000" text-anchor="end" textLength="17.4" lengthAdjust="spacingAndGlyphs" stroke="#000" stroke-width="0.45" >10</text>
<line x1="58" y1="510.15" x2="66" y2="510.15" stroke="#000" stroke-width="4.5"/>
<text x="52.3" y="515.1500000000001" font-size="12.5" font-weight="bold" fill="#000" text-anchor="end" textLength="17.4" lengthAdjust="spacingAndGlyphs" stroke="#000" stroke-width="0.45" >20</text>
<line x1="58" y1="474.62" x2="66" y2="474.62" stroke="#000" stroke-width="4.5"/>
<text x="52.3" y="479.625" font-size="12.5" font-weight="bold" fill="#000" text-anchor="end" textLength="17.4" lengthAdjust="spacingAndGlyphs" stroke="#000" stroke-width="0.45" >30</text>
<line x1="58" y1="439.10" x2="66" y2="439.10" stroke="#000" stroke-width="4.5"/>
<text x="52.3" y="444.1" font-size="12.5" font-weight="bold" fill="#000" text-anchor="end" textLength="17.4" lengthAdjust="spacingAndGlyphs" stroke="#000" stroke-width="0.45" >40</text>
<line x1="58" y1="403.58" x2="66" y2="403.58" stroke="#000" stroke-width="4.5"/>
<text x="52.3" y="408.57500000000005" font-size="12.5" font-weight="bold" fill="#000" text-anchor="end" textLength="17.4" lengthAdjust="spacingAndGlyphs" stroke="#000" stroke-width="0.45" >50</text>
<line x1="58" y1="368.05" x2="66" y2="368.05" stroke="#000" stroke-width="4.5"/>
<text x="52.3" y="373.05" font-size="12.5" font-weight="bold" fill="#000" text-anchor="end" textLength="17.4" lengthAdjust="spacingAndGlyphs" stroke="#000" stroke-width="0.45" >60</text>
<line x1="58" y1="332.52" x2="66" y2="332.52" stroke="#000" stroke-width="4.5"/>
<text x="52.3" y="337.525" font-size="12.5" font-weight="bold" fill="#000" text-anchor="end" textLength="17.4" lengthAdjust="spacingAndGlyphs" stroke="#000" stroke-width="0.45" >70</text>
<line x1="58" y1="297.00" x2="66" y2="297.00" stroke="#000" stroke-width="4.5"/>
<text x="52.3" y="302.0" font-size="12.5" font-weight="bold" fill="#000" text-anchor="end" textLength="17.4" lengthAdjust="spacingAndGlyphs" stroke="#000" stroke-width="0.45" >80</text>
<text transform="translate(11.0,439) rotate(-90)" x="0" y="0" font-size="13.5" font-weight="bold" stroke="#000" stroke-width="0.45" text-anchor="middle" textLength="129" lengthAdjust="spacingAndGlyphs">Dissipated Energy</text>
<text transform="translate(24.2,439) rotate(-90)" x="0" y="0" font-size="13.5" font-weight="bold" stroke="#000" stroke-width="0.45" text-anchor="middle" textLength="70" lengthAdjust="spacingAndGlyphs">(kcal/mol)</text>
<rect x="96.60" y="474.20" width="39.80" height="107.00" fill="#4a67d8" stroke="#00007d" stroke-width="4.4"/>
<rect x="140.80" y="554.90" width="39.90" height="26.30" fill="#6a0a5e" stroke="#580a4f" stroke-width="4.4"/>
<rect x="229.30" y="381.40" width="40.00" height="199.80" fill="#4a67d8" stroke="#00007d" stroke-width="4.4"/>
<rect x="273.70" y="551.40" width="39.80" height="29.80" fill="#6a0a5e" stroke="#580a4f" stroke-width="4.4"/>
<rect x="362.20" y="518.80" width="40.00" height="62.40" fill="#4a67d8" stroke="#00007d" stroke-width="4.4"/>
<rect x="406.60" y="534.00" width="39.50" height="47.20" fill="#6a0a5e" stroke="#580a4f" stroke-width="4.4"/>
<rect x="495.10" y="540.90" width="40.00" height="40.30" fill="#4a67d8" stroke="#00007d" stroke-width="4.4"/>
<rect x="539.50" y="562.40" width="39.20" height="18.80" fill="#6a0a5e" stroke="#580a4f" stroke-width="4.4"/>
<rect x="627.90" y="569.20" width="40.10" height="12.00" fill="#4a67d8" stroke="#00007d" stroke-width="4.4"/>
<rect x="672.40" y="570.90" width="39.30" height="10.30" fill="#6a0a5e" stroke="#580a4f" stroke-width="4.4"/>
<line x1="66" y1="545.68" x2="742.7" y2="545.68" stroke="#b0b0b0" stroke-width="1.2"/>
<line x1="66" y1="510.15" x2="742.7" y2="510.15" stroke="#b0b0b0" stroke-width="1.2"/>
<line x1="66" y1="474.62" x2="742.7" y2="474.62" stroke="#b0b0b0" stroke-width="1.2"/>
<line x1="66" y1="439.10" x2="742.7" y2="439.10" stroke="#b0b0b0" stroke-width="1.2"/>
<line x1="66" y1="403.58" x2="742.7" y2="403.58" stroke="#b0b0b0" stroke-width="1.2"/>
<line x1="66" y1="368.05" x2="742.7" y2="368.05" stroke="#b0b0b0" stroke-width="1.2"/>
<line x1="66" y1="332.52" x2="742.7" y2="332.52" stroke="#b0b0b0" stroke-width="1.2"/>
<defs><pattern id="lat" x="402.85" y="442.4" width="7.22" height="13.0" patternUnits="userSpaceOnUse"><rect width="7.22" height="13.0" fill="#fff"/><line x1="3.6" y1="0" x2="3.6" y2="13.0" stroke="#3a2a14" stroke-width="1.4"/><line x1="0" y1="3.25" x2="7.22" y2="3.25" stroke="#5a2a1a" stroke-width="1.0"/><line x1="0" y1="9.75" x2="7.22" y2="9.75" stroke="#5a2a1a" stroke-width="1.0"/><path d="M2.2,4.9 L5.0,8.1 M5.0,4.9 L2.2,8.1" stroke="#b81212" stroke-width="1.5"/><path d="M2.2,11.4 L5.0,14.6 M5.0,11.4 L2.2,14.6 M2.2,-1.6 L5.0,1.6 M5.0,-1.6 L2.2,1.6" stroke="#b81212" stroke-width="1.5"/><circle cx="1.7" cy="3.25" r="1.15" fill="#d41414"/><circle cx="5.5" cy="3.25" r="1.15" fill="#d41414"/><circle cx="3.6" cy="3.25" r="1.0" fill="#1ea01e"/><circle cx="0.0" cy="3.25" r="0.9" fill="#22a822"/><circle cx="7.22" cy="3.25" r="0.9" fill="#22a822"/><circle cx="1.7" cy="9.75" r="1.15" fill="#d41414"/><circle cx="5.5" cy="9.75" r="1.15" fill="#d41414"/><circle cx="3.6" cy="9.75" r="1.0" fill="#1ea01e"/><circle cx="0.0" cy="9.75" r="0.9" fill="#22a822"/><circle cx="7.22" cy="9.75" r="0.9" fill="#22a822"/></pattern></defs>
<rect x="400.8" y="375.8" width="161.2" height="91.39999999999998" fill="#fff" stroke="#3a3a3a" stroke-width="1"/>
<rect x="401.3" y="438.5" width="160.2" height="28.19999999999999" fill="url(#lat)"/>
<circle cx="403.4" cy="436.8" r="1.3" fill="#c41414"/>
<circle cx="405.9" cy="436.5" r="1.2" fill="#b01010"/>
<circle cx="402.0" cy="438.4" r="0.9" fill="#c41414"/>
<line x1="402.8" y1="437.2" x2="404.0" y2="439.8" stroke="#6a3020" stroke-width="1"/>
<circle cx="408.6" cy="439.2" r="0.9" fill="#6a2a1a"/>
<circle cx="405.6" cy="437.2" r="1.2" fill="#b01010"/>
<circle cx="406.8" cy="436.8" r="1.0" fill="#d02020"/>
<line x1="406.4" y1="437.2" x2="409.4" y2="437.9" stroke="#6a3020" stroke-width="1"/>
<circle cx="409.9" cy="436.5" r="1.3" fill="#c41414"/>
<circle cx="412.1" cy="438.7" r="1.2" fill="#d02020"/>
<circle cx="411.3" cy="441.1" r="1.1" fill="#b01010"/>
<line x1="410.0" y1="437.9" x2="413.1" y2="438.5" stroke="#6a3020" stroke-width="1"/>
<circle cx="415.2" cy="440.8" r="1.3" fill="#d02020"/>
<circle cx="415.6" cy="436.4" r="1.2" fill="#b01010"/>
<circle cx="416.4" cy="436.8" r="1.2" fill="#c41414"/>
<line x1="413.6" y1="438.4" x2="414.8" y2="439.7" stroke="#6a3020" stroke-width="1"/>
<circle cx="420.3" cy="437.9" r="1.1" fill="#6a2a1a"/>
<circle cx="419.1" cy="438.5" r="1.4" fill="#d02020"/>
<circle cx="418.6" cy="439.7" r="0.9" fill="#d02020"/>
<line x1="417.2" y1="437.4" x2="421.2" y2="440.8" stroke="#6a3020" stroke-width="1"/>
<circle cx="417.7" cy="440.2" r="0.8" fill="#22aa22"/>
<circle cx="419.9" cy="438.5" r="1.0" fill="#c41414"/>
<circle cx="422.3" cy="437.2" r="1.1" fill="#b01010"/>
<circle cx="421.8" cy="441.0" r="1.2" fill="#b01010"/>
<line x1="420.8" y1="436.8" x2="423.4" y2="441.0" stroke="#6a3020" stroke-width="1"/>
<circle cx="427.7" cy="437.5" r="1.1" fill="#d02020"/>
<circle cx="426.8" cy="438.1" r="1.0" fill="#c41414"/>
<circle cx="424.3" cy="437.3" r="1.0" fill="#6a2a1a"/>
<line x1="424.4" y1="438.0" x2="425.9" y2="438.6" stroke="#6a3020" stroke-width="1"/>
<circle cx="425.5" cy="439.9" r="0.8" fill="#22aa22"/>
<circle cx="428.6" cy="436.7" r="1.4" fill="#c41414"/>
<circle cx="429.3" cy="440.8" r="1.5" fill="#6a2a1a"/>
<circle cx="429.0" cy="438.2" r="1.2" fill="#6a2a1a"/>
<line x1="428.0" y1="435.7" x2="429.2" y2="438.3" stroke="#6a3020" stroke-width="1"/>
<circle cx="428.4" cy="437.7" r="0.8" fill="#22aa22"/>
<circle cx="430.6" cy="436.8" r="1.0" fill="#d02020"/>
<circle cx="433.7" cy="436.4" r="1.0" fill="#6a2a1a"/>
<circle cx="431.3" cy="437.4" r="1.1" fill="#d02020"/>
<line x1="431.6" y1="436.9" x2="432.9" y2="439.5" stroke="#6a3020" stroke-width="1"/>
<circle cx="436.6" cy="437.7" r="1.0" fill="#d02020"/>
<circle cx="437.9" cy="438.6" r="1.3" fill="#c41414"/>
<circle cx="435.2" cy="441.2" r="1.1" fill="#c41414"/>
<line x1="435.2" y1="437.8" x2="437.1" y2="440.1" stroke="#6a3020" stroke-width="1"/>
<circle cx="437.6" cy="439.6" r="0.8" fill="#22aa22"/>
<circle cx="442.3" cy="438.0" r="1.0" fill="#d02020"/>
<circle cx="441.0" cy="439.4" r="1.4" fill="#b01010"/>
<circle cx="441.8" cy="440.5" r="1.3" fill="#b01010"/>
<line x1="438.8" y1="436.1" x2="441.3" y2="440.4" stroke="#6a3020" stroke-width="1"/>
<circle cx="445.4" cy="438.6" r="1.0" fill="#d02020"/>
<circle cx="443.6" cy="441.2" r="1.5" fill="#d02020"/>
<circle cx="441.8" cy="436.6" r="1.2" fill="#d02020"/>
<line x1="442.4" y1="436.1" x2="445.3" y2="441.1" stroke="#6a3020" stroke-width="1"/>
<circle cx="447.4" cy="439.6" r="1.4" fill="#c41414"/>
<circle cx="449.2" cy="436.7" r="1.1" fill="#b01010"/>
<circle cx="447.4" cy="437.0" r="1.4" fill="#d02020"/>
<line x1="446.0" y1="435.8" x2="449.8" y2="440.4" stroke="#6a3020" stroke-width="1"/>
<circle cx="452.3" cy="436.5" r="1.0" fill="#b01010"/>
<circle cx="448.7" cy="439.2" r="1.2" fill="#b01010"/>
<circle cx="451.7" cy="439.3" r="1.2" fill="#d02020"/>
<line x1="449.6" y1="436.0" x2="452.2" y2="437.6" stroke="#6a3020" stroke-width="1"/>
<circle cx="455.8" cy="436.6" r="1.3" fill="#b01010"/>
<circle cx="454.4" cy="440.8" r="1.4" fill="#b01010"/>
<circle cx="452.3" cy="437.2" r="1.2" fill="#d02020"/>
<line x1="453.2" y1="436.3" x2="455.5" y2="438.0" stroke="#6a3020" stroke-width="1"/>
<circle cx="457.6" cy="438.5" r="1.3" fill="#6a2a1a"/>
<circle cx="459.9" cy="440.8" r="1.0" fill="#b01010"/>
<circle cx="458.4" cy="436.1" r="1.2" fill="#b01010"/>
<line x1="456.8" y1="437.3" x2="460.1" y2="438.1" stroke="#6a3020" stroke-width="1"/>
<circle cx="458.3" cy="438.0" r="0.8" fill="#22aa22"/>
<circle cx="459.7" cy="439.8" r="1.2" fill="#6a2a1a"/>
<circle cx="463.3" cy="436.6" r="1.2" fill="#b01010"/>
<circle cx="460.4" cy="436.2" r="1.0" fill="#6a2a1a"/>
<line x1="460.4" y1="437.2" x2="463.7" y2="441.1" stroke="#6a3020" stroke-width="1"/>
<circle cx="466.1" cy="438.8" r="1.2" fill="#d02020"/>
<circle cx="465.3" cy="438.9" r="1.2" fill="#b01010"/>
<circle cx="466.5" cy="440.8" r="1.5" fill="#d02020"/>
<line x1="464.0" y1="438.3" x2="467.7" y2="438.3" stroke="#6a3020" stroke-width="1"/>
<circle cx="468.7" cy="438.2" r="1.1" fill="#b01010"/>
<circle cx="468.7" cy="437.2" r="1.1" fill="#c41414"/>
<circle cx="471.1" cy="436.8" r="1.3" fill="#d02020"/>
<line x1="467.6" y1="435.9" x2="471.2" y2="441.4" stroke="#6a3020" stroke-width="1"/>
<circle cx="470.4" cy="439.1" r="0.8" fill="#22aa22"/>
<circle cx="472.6" cy="441.4" r="1.4" fill="#b01010"/>
<circle cx="473.7" cy="441.5" r="1.1" fill="#6a2a1a"/>
<circle cx="471.2" cy="437.8" r="1.3" fill="#c41414"/>
<line x1="471.2" y1="436.5" x2="473.6" y2="440.3" stroke="#6a3020" stroke-width="1"/>
<circle cx="476.4" cy="437.6" r="1.5" fill="#c41414"/>
<circle cx="478.7" cy="440.3" r="1.5" fill="#c41414"/>
<circle cx="474.2" cy="437.5" r="1.4" fill="#b01010"/>
<line x1="474.8" y1="436.3" x2="476.2" y2="439.2" stroke="#6a3020" stroke-width="1"/>
<circle cx="481.5" cy="437.4" r="1.0" fill="#6a2a1a"/>
<circle cx="480.9" cy="436.5" r="0.9" fill="#b01010"/>
<circle cx="479.5" cy="436.4" r="1.5" fill="#c41414"/>
<line x1="478.4" y1="437.9" x2="479.7" y2="440.9" stroke="#6a3020" stroke-width="1"/>
<circle cx="480.9" cy="439.3" r="0.8" fill="#22aa22"/>
<circle cx="482.7" cy="439.0" r="1.5" fill="#d02020"/>
<circle cx="484.1" cy="436.2" r="1.3" fill="#c41414"/>
<circle cx="485.8" cy="437.4" r="1.0" fill="#d02020"/>
<line x1="482.0" y1="437.4" x2="484.6" y2="438.3" stroke="#6a3020" stroke-width="1"/>
<circle cx="488.0" cy="437.5" r="1.4" fill="#d02020"/>
<circle cx="484.8" cy="436.1" r="1.2" fill="#b01010"/>
<circle cx="487.2" cy="437.4" r="1.2" fill="#6a2a1a"/>
<line x1="485.6" y1="437.5" x2="488.2" y2="441.1" stroke="#6a3020" stroke-width="1"/>
<circle cx="489.7" cy="437.2" r="1.0" fill="#b01010"/>
<circle cx="492.4" cy="439.9" r="1.3" fill="#6a2a1a"/>
<circle cx="493.1" cy="441.4" r="1.4" fill="#c41414"/>
<line x1="489.2" y1="435.7" x2="492.4" y2="438.5" stroke="#6a3020" stroke-width="1"/>
<circle cx="488.5" cy="440.9" r="0.8" fill="#22aa22"/>
<circle cx="496.2" cy="439.7" r="1.1" fill="#b01010"/>
<circle cx="495.3" cy="436.2" r="1.0" fill="#d02020"/>
<circle cx="494.0" cy="437.4" r="1.5" fill="#d02020"/>
<line x1="492.8" y1="436.2" x2="496.7" y2="438.7" stroke="#6a3020" stroke-width="1"/>
<circle cx="495.4" cy="438.1" r="1.2" fill="#b01010"/>
<circle cx="496.6" cy="440.3" r="1.0" fill="#c41414"/>
<circle cx="496.1" cy="439.2" r="1.1" fill="#d02020"/>
<line x1="496.4" y1="436.4" x2="498.1" y2="439.8" stroke="#6a3020" stroke-width="1"/>
<circle cx="502.8" cy="439.6" r="1.3" fill="#6a2a1a"/>
<circle cx="502.8" cy="440.0" r="1.2" fill="#d02020"/>
<circle cx="502.6" cy="439.5" r="0.9" fill="#6a2a1a"/>
<line x1="500.0" y1="437.7" x2="503.4" y2="438.1" stroke="#6a3020" stroke-width="1"/>
<circle cx="505.1" cy="440.6" r="1.4" fill="#b01010"/>
<circle cx="503.0" cy="436.2" r="1.3" fill="#c41414"/>
<circle cx="504.5" cy="438.5" r="0.9" fill="#c41414"/>
<line x1="503.6" y1="437.4" x2="506.6" y2="439.5" stroke="#6a3020" stroke-width="1"/>
<circle cx="505.8" cy="440.5" r="0.8" fill="#22aa22"/>
<circle cx="508.7" cy="438.9" r="1.3" fill="#c41414"/>
<circle cx="509.9" cy="438.6" r="1.4" fill="#d02020"/>
<circle cx="507.4" cy="440.2" r="1.0" fill="#6a2a1a"/>
<line x1="507.2" y1="437.0" x2="509.3" y2="439.4" stroke="#6a3020" stroke-width="1"/>
<circle cx="513.6" cy="439.4" r="1.3" fill="#c41414"/>
<circle cx="512.8" cy="437.8" r="1.3" fill="#d02020"/>
<circle cx="512.9" cy="436.7" r="1.2" fill="#6a2a1a"/>
<line x1="510.8" y1="436.3" x2="513.8" y2="440.3" stroke="#6a3020" stroke-width="1"/>
<circle cx="514.9" cy="438.8" r="1.2" fill="#6a2a1a"/>
<circle cx="517.2" cy="441.5" r="1.2" fill="#d02020"/>
<circle cx="518.3" cy="441.1" r="0.9" fill="#6a2a1a"/>
<line x1="514.4" y1="435.7" x2="516.9" y2="441.5" stroke="#6a3020" stroke-width="1"/>
<circle cx="518.9" cy="441.0" r="1.5" fill="#c41414"/>
<circle cx="519.9" cy="436.8" r="1.2" fill="#d02020"/>
<circle cx="517.7" cy="440.5" r="1.2" fill="#c41414"/>
<line x1="518.0" y1="437.6" x2="519.7" y2="441.1" stroke="#6a3020" stroke-width="1"/>
<circle cx="520.7" cy="436.0" r="1.2" fill="#6a2a1a"/>
<circle cx="522.6" cy="440.0" r="1.1" fill="#6a2a1a"/>
<circle cx="522.2" cy="440.6" r="0.9" fill="#d02020"/>
<line x1="521.6" y1="438.0" x2="523.0" y2="441.2" stroke="#6a3020" stroke-width="1"/>
<circle cx="528.7" cy="437.6" r="1.1" fill="#6a2a1a"/>
<circle cx="526.2" cy="440.8" r="0.9" fill="#6a2a1a"/>
<circle cx="528.0" cy="440.7" r="1.1" fill="#c41414"/>
<line x1="525.2" y1="438.0" x2="527.1" y2="441.2" stroke="#6a3020" stroke-width="1"/>
<circle cx="525.3" cy="439.5" r="0.8" fill="#22aa22"/>
<circle cx="528.7" cy="438.1" r="1.5" fill="#c41414"/>
<circle cx="531.9" cy="439.5" r="1.4" fill="#b01010"/>
<circle cx="531.4" cy="436.3" r="1.3" fill="#6a2a1a"/>
<line x1="528.8" y1="437.3" x2="530.2" y2="441.0" stroke="#6a3020" stroke-width="1"/>
<circle cx="536.0" cy="439.0" r="1.0" fill="#6a2a1a"/>
<circle cx="533.1" cy="437.6" r="1.3" fill="#d02020"/>
<circle cx="533.4" cy="437.3" r="1.2" fill="#6a2a1a"/>
<line x1="532.4" y1="435.9" x2="535.3" y2="437.8" stroke="#6a3020" stroke-width="1"/>
<circle cx="539.1" cy="439.0" r="1.2" fill="#d02020"/>
<circle cx="540.0" cy="438.5" r="1.0" fill="#b01010"/>
<circle cx="536.2" cy="437.0" r="1.2" fill="#d02020"/>
<line x1="536.0" y1="436.2" x2="537.8" y2="439.8" stroke="#6a3020" stroke-width="1"/>
<circle cx="542.3" cy="438.3" r="1.1" fill="#b01010"/>
<circle cx="540.5" cy="437.9" r="0.9" fill="#d02020"/>
<circle cx="541.5" cy="438.0" r="1.3" fill="#b01010"/>
<line x1="539.6" y1="435.8" x2="543.3" y2="439.0" stroke="#6a3020" stroke-width="1"/>
<circle cx="544.4" cy="437.7" r="1.4" fill="#c41414"/>
<circle cx="542.8" cy="438.3" r="1.4" fill="#6a2a1a"/>
<circle cx="547.0" cy="438.7" r="0.9" fill="#6a2a1a"/>
<line x1="543.2" y1="438.4" x2="544.9" y2="437.9" stroke="#6a3020" stroke-width="1"/>
<circle cx="544.3" cy="440.2" r="0.8" fill="#22aa22"/>
<circle cx="550.5" cy="440.0" r="1.3" fill="#6a2a1a"/>
<circle cx="546.2" cy="440.3" r="0.9" fill="#b01010"/>
<circle cx="547.0" cy="441.1" r="1.3" fill="#d02020"/>
<line x1="546.8" y1="438.4" x2="549.7" y2="439.6" stroke="#6a3020" stroke-width="1"/>
<circle cx="553.2" cy="436.5" r="1.1" fill="#b01010"/>
<circle cx="551.3" cy="437.2" r="1.3" fill="#c41414"/>
<circle cx="552.1" cy="441.5" r="1.1" fill="#d02020"/>
<line x1="550.4" y1="437.4" x2="554.1" y2="439.4" stroke="#6a3020" stroke-width="1"/>
<circle cx="550.4" cy="441.3" r="0.8" fill="#22aa22"/>
<circle cx="556.5" cy="437.7" r="0.9" fill="#6a2a1a"/>
<circle cx="557.4" cy="439.6" r="0.9" fill="#b01010"/>
<circle cx="556.3" cy="441.1" r="1.0" fill="#c41414"/>
<line x1="554.0" y1="437.6" x2="557.2" y2="438.9" stroke="#6a3020" stroke-width="1"/>
<circle cx="556.6" cy="437.6" r="1.4" fill="#c41414"/>
<circle cx="557.6" cy="441.3" r="1.1" fill="#b01010"/>
<circle cx="557.8" cy="437.2" r="1.4" fill="#d02020"/>
<line x1="557.6" y1="435.8" x2="560.5" y2="439.9" stroke="#6a3020" stroke-width="1"/>
<circle cx="562.6" cy="441.0" r="0.9" fill="#b01010"/>
<circle cx="564.8" cy="436.3" r="0.9" fill="#b01010"/>
<circle cx="562.3" cy="439.9" r="1.0" fill="#6a2a1a"/>
<line x1="561.2" y1="438.2" x2="564.9" y2="440.4" stroke="#6a3020" stroke-width="1"/>
<rect x="573.4" y="375.3" width="161.89999999999998" height="91.5" fill="#fff" stroke="#3a3a3a" stroke-width="1"/>
<rect x="573.9" y="441" width="160.89999999999998" height="25.30000000000001" fill="url(#lat)"/>
<circle cx="579.1" cy="440.3" r="1.0" fill="#6a2a1a"/>
<circle cx="574.6" cy="442.2" r="1.1" fill="#d02020"/>
<circle cx="579.3" cy="440.9" r="1.0" fill="#c41414"/>
<line x1="575.4" y1="438.8" x2="577.5" y2="443.8" stroke="#6a3020" stroke-width="1"/>
<circle cx="578.3" cy="440.8" r="0.8" fill="#22aa22"/>
<circle cx="579.8" cy="443.0" r="1.4" fill="#6a2a1a"/>
<circle cx="578.4" cy="442.4" r="1.0" fill="#6a2a1a"/>
<circle cx="579.0" cy="440.5" r="1.4" fill="#c41414"/>
<line x1="579.0" y1="439.9" x2="580.7" y2="442.5" stroke="#6a3020" stroke-width="1"/>
<circle cx="583.5" cy="441.1" r="1.4" fill="#c41414"/>
<circle cx="582.9" cy="442.6" r="1.4" fill="#d02020"/>
<circle cx="583.4" cy="440.3" r="1.5" fill="#c41414"/>
<line x1="582.6" y1="438.8" x2="585.7" y2="441.3" stroke="#6a3020" stroke-width="1"/>
<circle cx="581.6" cy="443.0" r="0.8" fill="#22aa22"/>
<circle cx="589.8" cy="442.0" r="1.5" fill="#c41414"/>
<circle cx="589.3" cy="439.1" r="1.3" fill="#6a2a1a"/>
<circle cx="590.0" cy="440.6" r="1.1" fill="#6a2a1a"/>
<line x1="586.2" y1="440.4" x2="587.6" y2="442.0" stroke="#6a3020" stroke-width="1"/>
<circle cx="588.9" cy="441.2" r="0.8" fill="#22aa22"/>
<circle cx="592.3" cy="439.3" r="1.0" fill="#d02020"/>
<circle cx="591.1" cy="442.8" r="1.3" fill="#b01010"/>
<circle cx="590.8" cy="439.4" r="1.1" fill="#c41414"/>
<line x1="589.8" y1="439.4" x2="592.4" y2="440.6" stroke="#6a3020" stroke-width="1"/>
<circle cx="592.9" cy="438.9" r="1.3" fill="#b01010"/>
<circle cx="592.9" cy="441.2" r="1.3" fill="#6a2a1a"/>
<circle cx="593.3" cy="439.2" r="1.2" fill="#b01010"/>
<line x1="593.4" y1="440.2" x2="596.9" y2="442.7" stroke="#6a3020" stroke-width="1"/>
<circle cx="595.8" cy="441.2" r="0.8" fill="#22aa22"/>
<circle cx="598.8" cy="440.6" r="1.3" fill="#b01010"/>
<circle cx="598.2" cy="439.5" r="1.0" fill="#d02020"/>
<circle cx="600.4" cy="441.7" r="1.1" fill="#6a2a1a"/>
<line x1="597.0" y1="438.8" x2="598.7" y2="442.1" stroke="#6a3020" stroke-width="1"/>
<circle cx="600.1" cy="441.1" r="0.9" fill="#c41414"/>
<circle cx="602.0" cy="443.0" r="1.4" fill="#d02020"/>
<circle cx="599.8" cy="440.1" r="1.0" fill="#b01010"/>
<line x1="600.6" y1="439.8" x2="604.1" y2="440.8" stroke="#6a3020" stroke-width="1"/>
<circle cx="601.7" cy="440.7" r="0.8" fill="#22aa22"/>
<circle cx="606.2" cy="442.8" r="1.3" fill="#c41414"/>
<circle cx="603.7" cy="441.8" r="1.3" fill="#b01010"/>
<circle cx="603.4" cy="440.4" r="0.9" fill="#d02020"/>
<line x1="604.2" y1="438.1" x2="607.4" y2="443.7" stroke="#6a3020" stroke-width="1"/>
<circle cx="610.9" cy="440.7" r="1.1" fill="#d02020"/>
<circle cx="607.2" cy="438.7" r="1.2" fill="#6a2a1a"/>
<circle cx="607.1" cy="439.1" r="1.1" fill="#b01010"/>
<line x1="607.8" y1="439.9" x2="609.1" y2="440.7" stroke="#6a3020" stroke-width="1"/>
<circle cx="612.4" cy="440.1" r="1.1" fill="#c41414"/>
<circle cx="612.0" cy="441.6" r="1.1" fill="#6a2a1a"/>
<circle cx="610.5" cy="442.7" r="1.4" fill="#b01010"/>
<line x1="611.4" y1="439.2" x2="613.6" y2="443.8" stroke="#6a3020" stroke-width="1"/>
<circle cx="614.8" cy="439.1" r="1.0" fill="#d02020"/>
<circle cx="616.3" cy="439.4" r="0.9" fill="#b01010"/>
<circle cx="617.2" cy="443.5" r="1.0" fill="#d02020"/>
<line x1="615.0" y1="440.2" x2="616.5" y2="441.4" stroke="#6a3020" stroke-width="1"/>
<circle cx="614.7" cy="440.3" r="0.8" fill="#22aa22"/>
<circle cx="619.5" cy="442.6" r="1.4" fill="#b01010"/>
<circle cx="619.1" cy="443.1" r="0.9" fill="#6a2a1a"/>
<circle cx="619.2" cy="441.8" r="1.3" fill="#c41414"/>
<line x1="618.6" y1="440.7" x2="621.5" y2="443.3" stroke="#6a3020" stroke-width="1"/>
<circle cx="620.7" cy="440.9" r="0.8" fill="#22aa22"/>
<circle cx="623.2" cy="443.2" r="1.4" fill="#b01010"/>
<circle cx="624.0" cy="438.7" r="1.5" fill="#b01010"/>
<circle cx="623.1" cy="439.2" r="1.0" fill="#b01010"/>
<line x1="622.2" y1="438.1" x2="624.9" y2="443.0" stroke="#6a3020" stroke-width="1"/>
<circle cx="624.6" cy="440.5" r="0.8" fill="#22aa22"/>
<circle cx="627.8" cy="441.5" r="1.3" fill="#d02020"/>
<circle cx="628.0" cy="440.2" r="1.0" fill="#6a2a1a"/>
<circle cx="628.1" cy="441.0" r="1.2" fill="#c41414"/>
<line x1="625.8" y1="438.0" x2="629.8" y2="441.9" stroke="#6a3020" stroke-width="1"/>
<circle cx="631.5" cy="443.0" r="1.4" fill="#6a2a1a"/>
<circle cx="630.4" cy="438.9" r="1.1" fill="#d02020"/>
<circle cx="628.9" cy="440.9" r="1.2" fill="#c41414"/>
<line x1="629.4" y1="438.1" x2="630.8" y2="443.7" stroke="#6a3020" stroke-width="1"/>
<circle cx="635.6" cy="438.9" r="1.4" fill="#6a2a1a"/>
<circle cx="635.3" cy="442.8" r="0.9" fill="#c41414"/>
<circle cx="637.0" cy="442.5" r="1.4" fill="#b01010"/>
<line x1="633.0" y1="438.4" x2="636.7" y2="441.2" stroke="#6a3020" stroke-width="1"/>
<circle cx="639.6" cy="442.3" r="1.3" fill="#b01010"/>
<circle cx="635.9" cy="440.4" r="1.4" fill="#b01010"/>
<circle cx="637.2" cy="441.9" r="1.4" fill="#6a2a1a"/>
<line x1="636.6" y1="438.4" x2="639.1" y2="443.7" stroke="#6a3020" stroke-width="1"/>
<circle cx="636.7" cy="442.0" r="0.8" fill="#22aa22"/>
<circle cx="640.8" cy="438.7" r="1.0" fill="#b01010"/>
<circle cx="642.4" cy="440.0" r="1.1" fill="#6a2a1a"/>
<circle cx="640.0" cy="442.8" r="1.0" fill="#c41414"/>
<line x1="640.2" y1="439.9" x2="642.3" y2="443.5" stroke="#6a3020" stroke-width="1"/>
<circle cx="645.7" cy="443.4" r="1.0" fill="#6a2a1a"/>
<circle cx="646.5" cy="440.5" r="1.1" fill="#d02020"/>
<circle cx="645.7" cy="440.5" r="1.4" fill="#6a2a1a"/>
<line x1="643.8" y1="438.7" x2="646.6" y2="443.8" stroke="#6a3020" stroke-width="1"/>
<circle cx="644.9" cy="441.2" r="0.8" fill="#22aa22"/>
<circle cx="651.2" cy="443.3" r="1.5" fill="#d02020"/>
<circle cx="650.1" cy="442.6" r="1.0" fill="#d02020"/>
<circle cx="649.5" cy="440.9" r="1.2" fill="#c41414"/>
<line x1="647.4" y1="438.4" x2="649.1" y2="442.6" stroke="#6a3020" stroke-width="1"/>
<circle cx="646.4" cy="441.4" r="0.8" fill="#22aa22"/>
<circle cx="650.5" cy="440.5" r="1.0" fill="#d02020"/>
<circle cx="652.9" cy="439.6" r="1.3" fill="#6a2a1a"/>
<circle cx="650.8" cy="438.6" r="1.4" fill="#b01010"/>
<line x1="651.0" y1="439.4" x2="652.2" y2="440.6" stroke="#6a3020" stroke-width="1"/>
<circle cx="654.9" cy="443.0" r="1.5" fill="#c41414"/>
<circle cx="656.8" cy="441.6" r="1.1" fill="#6a2a1a"/>
<circle cx="656.6" cy="441.3" r="1.2" fill="#b01010"/>
<line x1="654.6" y1="440.7" x2="655.7" y2="442.1" stroke="#6a3020" stroke-width="1"/>
<circle cx="658.4" cy="438.8" r="1.4" fill="#c41414"/>
<circle cx="660.3" cy="442.1" r="1.0" fill="#6a2a1a"/>
<circle cx="658.2" cy="441.8" r="1.2" fill="#6a2a1a"/>
<line x1="658.2" y1="440.4" x2="659.7" y2="441.2" stroke="#6a3020" stroke-width="1"/>
<circle cx="661.0" cy="443.4" r="1.4" fill="#c41414"/>
<circle cx="662.7" cy="440.9" r="1.4" fill="#c41414"/>
<circle cx="664.5" cy="441.0" r="1.0" fill="#c41414"/>
<line x1="661.8" y1="438.8" x2="664.7" y2="440.5" stroke="#6a3020" stroke-width="1"/>
<circle cx="669.0" cy="443.7" r="1.1" fill="#c41414"/>
<circle cx="665.7" cy="441.5" r="1.2" fill="#d02020"/>
<circle cx="665.9" cy="443.6" r="1.4" fill="#c41414"/>
<line x1="665.4" y1="440.6" x2="666.4" y2="441.0" stroke="#6a3020" stroke-width="1"/>
<circle cx="667.4" cy="443.8" r="0.8" fill="#22aa22"/>
<circle cx="671.7" cy="440.3" r="1.4" fill="#d02020"/>
<circle cx="671.0" cy="440.6" r="1.4" fill="#6a2a1a"/>
<circle cx="670.4" cy="441.4" r="0.9" fill="#c41414"/>
<line x1="669.0" y1="439.3" x2="672.2" y2="442.3" stroke="#6a3020" stroke-width="1"/>
<circle cx="672.7" cy="441.9" r="0.9" fill="#b01010"/>
<circle cx="672.3" cy="438.6" r="1.0" fill="#b01010"/>
<circle cx="673.3" cy="439.3" r="0.9" fill="#c41414"/>
<line x1="672.6" y1="438.4" x2="675.5" y2="440.2" stroke="#6a3020" stroke-width="1"/>
<circle cx="671.8" cy="443.4" r="0.8" fill="#22aa22"/>
<circle cx="679.0" cy="439.6" r="1.5" fill="#c41414"/>
<circle cx="679.6" cy="442.7" r="1.3" fill="#6a2a1a"/>
<circle cx="675.7" cy="439.6" r="1.0" fill="#c41414"/>
<line x1="676.2" y1="440.8" x2="679.9" y2="443.0" stroke="#6a3020" stroke-width="1"/>
<circle cx="678.2" cy="442.5" r="0.8" fill="#22aa22"/>
<circle cx="681.2" cy="439.2" r="1.4" fill="#b01010"/>
<circle cx="680.3" cy="440.4" r="1.1" fill="#d02020"/>
<circle cx="680.1" cy="440.1" r="1.3" fill="#d02020"/>
<line x1="679.8" y1="440.7" x2="683.1" y2="442.4" stroke="#6a3020" stroke-width="1"/>
<circle cx="683.8" cy="442.6" r="1.4" fill="#c41414"/>
<circle cx="684.6" cy="442.8" r="1.1" fill="#c41414"/>
<circle cx="685.1" cy="439.7" r="1.4" fill="#c41414"/>
<line x1="683.4" y1="439.7" x2="685.3" y2="441.7" stroke="#6a3020" stroke-width="1"/>
<circle cx="687.4" cy="442.6" r="0.9" fill="#d02020"/>
<circle cx="688.5" cy="441.2" r="1.4" fill="#b01010"/>
<circle cx="690.8" cy="441.8" r="1.5" fill="#d02020"/>
<line x1="687.0" y1="439.7" x2="688.5" y2="443.3" stroke="#6a3020" stroke-width="1"/>
<circle cx="690.8" cy="439.4" r="1.5" fill="#c41414"/>
<circle cx="692.1" cy="444.0" r="1.2" fill="#c41414"/>
<circle cx="692.7" cy="440.5" r="1.1" fill="#6a2a1a"/>
<line x1="690.6" y1="440.7" x2="693.8" y2="441.7" stroke="#6a3020" stroke-width="1"/>
<circle cx="695.1" cy="440.2" r="1.2" fill="#b01010"/>
<circle cx="695.1" cy="443.4" r="1.0" fill="#6a2a1a"/>
<circle cx="693.8" cy="441.8" r="1.3" fill="#c41414"/>
<line x1="694.2" y1="439.0" x2="696.2" y2="440.6" stroke="#6a3020" stroke-width="1"/>
<circle cx="700.1" cy="442.6" r="1.0" fill="#6a2a1a"/>
<circle cx="700.2" cy="439.9" r="1.0" fill="#d02020"/>
<circle cx="699.1" cy="443.4" r="1.0" fill="#b01010"/>
<line x1="697.8" y1="438.8" x2="701.1" y2="443.3" stroke="#6a3020" stroke-width="1"/>
<circle cx="704.0" cy="443.9" r="1.3" fill="#d02020"/>
<circle cx="701.2" cy="440.3" r="1.0" fill="#c41414"/>
<circle cx="701.2" cy="442.1" r="1.0" fill="#b01010"/>
<line x1="701.4" y1="441.0" x2="704.8" y2="442.9" stroke="#6a3020" stroke-width="1"/>
<circle cx="705.0" cy="442.0" r="1.0" fill="#b01010"/>
<circle cx="708.4" cy="441.1" r="0.9" fill="#6a2a1a"/>
<circle cx="707.5" cy="441.3" r="1.3" fill="#6a2a1a"/>
<line x1="705.0" y1="438.1" x2="706.8" y2="443.0" stroke="#6a3020" stroke-width="1"/>
<circle cx="705.0" cy="443.4" r="0.8" fill="#22aa22"/>
<circle cx="711.1" cy="441.7" r="1.3" fill="#b01010"/>
<circle cx="710.9" cy="442.1" r="1.4" fill="#b01010"/>
<circle cx="711.0" cy="442.0" r="1.2" fill="#d02020"/>
<line x1="708.6" y1="438.8" x2="711.7" y2="443.6" stroke="#6a3020" stroke-width="1"/>
<circle cx="709.2" cy="442.9" r="0.8" fill="#22aa22"/>
<circle cx="712.0" cy="443.2" r="1.2" fill="#c41414"/>
<circle cx="714.3" cy="440.8" r="1.3" fill="#b01010"/>
<circle cx="715.7" cy="440.3" r="0.9" fill="#6a2a1a"/>
<line x1="712.2" y1="440.7" x2="713.5" y2="441.0" stroke="#6a3020" stroke-width="1"/>
<circle cx="714.1" cy="443.8" r="0.8" fill="#22aa22"/>
<circle cx="715.8" cy="440.4" r="1.4" fill="#6a2a1a"/>
<circle cx="717.5" cy="442.4" r="1.2" fill="#d02020"/>
<circle cx="717.4" cy="440.8" r="1.5" fill="#b01010"/>
<line x1="715.8" y1="441.0" x2="717.4" y2="442.1" stroke="#6a3020" stroke-width="1"/>
<circle cx="722.0" cy="441.9" r="1.3" fill="#d02020"/>
<circle cx="719.8" cy="440.7" r="0.9" fill="#6a2a1a"/>
<circle cx="723.0" cy="442.0" r="1.3" fill="#d02020"/>
<line x1="719.4" y1="438.3" x2="721.3" y2="441.6" stroke="#6a3020" stroke-width="1"/>
<circle cx="726.9" cy="444.0" r="1.5" fill="#6a2a1a"/>
<circle cx="723.1" cy="439.2" r="1.4" fill="#b01010"/>
<circle cx="724.3" cy="441.6" r="1.0" fill="#b01010"/>
<line x1="723.0" y1="439.1" x2="725.9" y2="443.3" stroke="#6a3020" stroke-width="1"/>
<circle cx="727.9" cy="440.1" r="1.2" fill="#b01010"/>
<circle cx="729.5" cy="441.1" r="1.4" fill="#b01010"/>
<circle cx="726.9" cy="440.6" r="1.1" fill="#6a2a1a"/>
<line x1="726.6" y1="440.0" x2="729.0" y2="443.2" stroke="#6a3020" stroke-width="1"/>
<circle cx="731.0" cy="442.1" r="1.1" fill="#6a2a1a"/>
<circle cx="731.3" cy="442.0" r="1.3" fill="#d02020"/>
<circle cx="730.0" cy="440.2" r="1.1" fill="#c41414"/>
<line x1="730.2" y1="440.5" x2="733.9" y2="443.1" stroke="#6a3020" stroke-width="1"/>
<circle cx="732.5" cy="442.5" r="0.8" fill="#22aa22"/>
<circle cx="732.9" cy="438.6" r="1.5" fill="#d02020"/>
<circle cx="734.1" cy="439.1" r="1.0" fill="#b01010"/>
<circle cx="733.7" cy="441.0" r="1.4" fill="#b01010"/>
<line x1="733.8" y1="440.7" x2="737.2" y2="440.7" stroke="#6a3020" stroke-width="1"/>
<circle cx="458.6" cy="402.6" r="3.1" fill="url(#gsph)"/>
<circle cx="467.7" cy="402.3" r="3.1" fill="url(#gsph)"/>
<path d="M469.1,395.7 C469.9,395.1 472.5,393.8 474.0,392.0 C475.5,390.2 476.5,385.9 478.1,385.0 C479.7,384.1 482.4,387.1 483.5,386.8 C484.6,386.5 483.3,384.1 484.7,383.2 C486.1,382.3 490.6,380.6 491.9,381.4 C493.2,382.2 491.5,387.2 492.5,388.0 C493.5,388.8 496.4,385.9 497.9,386.2 C499.4,386.5 499.5,389.9 501.5,389.7 C503.5,389.5 507.9,385.9 509.8,385.0 C511.7,384.1 513.6,382.9 512.8,384.4 C512.0,385.9 507.1,391.7 505.0,393.9 C502.9,396.1 501.5,397.5 500.3,397.5 C499.1,397.5 499.1,393.8 497.9,393.9 C496.7,394.0 493.8,397.3 493.0,398.0" fill="none" stroke="#1d5e66" stroke-width="1.84" stroke-linecap="round" stroke-linejoin="round"/>
<path d="M469.1,395.7 C469.9,395.1 472.5,393.8 474.0,392.0 C475.5,390.2 476.5,385.9 478.1,385.0 C479.7,384.1 482.4,387.1 483.5,386.8 C484.6,386.5 483.3,384.1 484.7,383.2 C486.1,382.3 490.6,380.6 491.9,381.4 C493.2,382.2 491.5,387.2 492.5,388.0 C493.5,388.8 496.4,385.9 497.9,386.2 C499.4,386.5 499.5,389.9 501.5,389.7 C503.5,389.5 507.9,385.9 509.8,385.0 C511.7,384.1 513.6,382.9 512.8,384.4 C512.0,385.9 507.1,391.7 505.0,393.9 C502.9,396.1 501.5,397.5 500.3,397.5 C499.1,397.5 499.1,393.8 497.9,393.9 C496.7,394.0 493.8,397.3 493.0,398.0" fill="none" stroke="#3fa0aa" stroke-width="1.30" stroke-linecap="round" stroke-linejoin="round"/>
<path d="M469.1,395.7 C469.9,395.1 472.5,393.8 474.0,392.0 C475.5,390.2 476.5,385.9 478.1,385.0 C479.7,384.1 482.4,387.1 483.5,386.8 C484.6,386.5 483.3,384.1 484.7,383.2 C486.1,382.3 490.6,380.6 491.9,381.4 C493.2,382.2 491.5,387.2 492.5,388.0 C493.5,388.8 496.4,385.9 497.9,386.2 C499.4,386.5 499.5,389.9 501.5,389.7 C503.5,389.5 507.9,385.9 509.8,385.0 C511.7,384.1 513.6,382.9 512.8,384.4 C512.0,385.9 507.1,391.7 505.0,393.9 C502.9,396.1 501.5,397.5 500.3,397.5 C499.1,397.5 499.1,393.8 497.9,393.9 C496.7,394.0 493.8,397.3 493.0,398.0" fill="none" stroke="#78d4dc" stroke-width="0.39" stroke-linecap="round" stroke-linejoin="round" opacity="0.5"/>
<path d="M512.0,385.0 C510.5,386.2 505.7,390.0 503.0,392.0 C500.3,394.0 497.2,396.2 496.0,397.0" fill="none" stroke="#1d5e66" stroke-width="1.54" stroke-linecap="round" stroke-linejoin="round"/>
<path d="M512.0,385.0 C510.5,386.2 505.7,390.0 503.0,392.0 C500.3,394.0 497.2,396.2 496.0,397.0" fill="none" stroke="#3fa0aa" stroke-width="1.00" stroke-linecap="round" stroke-linejoin="round"/>
<path d="M512.0,385.0 C510.5,386.2 505.7,390.0 503.0,392.0 C500.3,394.0 497.2,396.2 496.0,397.0" fill="none" stroke="#78d4dc" stroke-width="0.30" stroke-linecap="round" stroke-linejoin="round" opacity="0.5"/>
<path d="M468.0,397.0 C469.8,397.9 478.5,400.8 478.7,402.3 C478.9,403.8 469.5,404.7 469.1,405.9 C468.7,407.1 476.5,407.9 476.3,409.5 C476.1,411.1 468.2,413.7 468.0,415.5 C467.8,417.3 475.3,419.3 475.1,420.3 C474.9,421.3 467.4,419.7 466.8,421.3 C466.2,422.9 469.7,428.0 471.5,429.8 C473.3,431.6 475.3,432.8 477.5,432.2 C479.7,431.6 483.3,428.4 484.7,426.2 C486.1,424.0 485.1,418.6 485.9,419.0 C486.7,419.4 487.9,428.0 489.5,428.6 C491.1,429.2 493.3,424.1 495.5,422.7 C497.7,421.3 501.5,420.7 502.7,420.3" fill="none" stroke="#1d5e66" stroke-width="4.14" stroke-linecap="round" stroke-linejoin="round"/>
<path d="M468.0,397.0 C469.8,397.9 478.5,400.8 478.7,402.3 C478.9,403.8 469.5,404.7 469.1,405.9 C468.7,407.1 476.5,407.9 476.3,409.5 C476.1,411.1 468.2,413.7 468.0,415.5 C467.8,417.3 475.3,419.3 475.1,420.3 C474.9,421.3 467.4,419.7 466.8,421.3 C466.2,422.9 469.7,428.0 471.5,429.8 C473.3,431.6 475.3,432.8 477.5,432.2 C479.7,431.6 483.3,428.4 484.7,426.2 C486.1,424.0 485.1,418.6 485.9,419.0 C486.7,419.4 487.9,428.0 489.5,428.6 C491.1,429.2 493.3,424.1 495.5,422.7 C497.7,421.3 501.5,420.7 502.7,420.3" fill="none" stroke="#3fa0aa" stroke-width="3.60" stroke-linecap="round" stroke-linejoin="round"/>
<path d="M468.0,397.0 C469.8,397.9 478.5,400.8 478.7,402.3 C478.9,403.8 469.5,404.7 469.1,405.9 C468.7,407.1 476.5,407.9 476.3,409.5 C476.1,411.1 468.2,413.7 468.0,415.5 C467.8,417.3 475.3,419.3 475.1,420.3 C474.9,421.3 467.4,419.7 466.8,421.3 C466.2,422.9 469.7,428.0 471.5,429.8 C473.3,431.6 475.3,432.8 477.5,432.2 C479.7,431.6 483.3,428.4 484.7,426.2 C486.1,424.0 485.1,418.6 485.9,419.0 C486.7,419.4 487.9,428.0 489.5,428.6 C491.1,429.2 493.3,424.1 495.5,422.7 C497.7,421.3 501.5,420.7 502.7,420.3" fill="none" stroke="#2a7e87" stroke-width="1.98" stroke-linecap="round" stroke-linejoin="round" transform="translate(0.6,0.8)" opacity="0.8"/>
<path d="M468.0,397.0 C469.8,397.9 478.5,400.8 478.7,402.3 C478.9,403.8 469.5,404.7 469.1,405.9 C468.7,407.1 476.5,407.9 476.3,409.5 C476.1,411.1 468.2,413.7 468.0,415.5 C467.8,417.3 475.3,419.3 475.1,420.3 C474.9,421.3 467.4,419.7 466.8,421.3 C466.2,422.9 469.7,428.0 471.5,429.8 C473.3,431.6 475.3,432.8 477.5,432.2 C479.7,431.6 483.3,428.4 484.7,426.2 C486.1,424.0 485.1,418.6 485.9,419.0 C486.7,419.4 487.9,428.0 489.5,428.6 C491.1,429.2 493.3,424.1 495.5,422.7 C497.7,421.3 501.5,420.7 502.7,420.3" fill="none" stroke="#78d4dc" stroke-width="1.01" stroke-linecap="round" stroke-linejoin="round" transform="translate(-0.7,-0.9)" opacity="0.75"/>
<circle cx="474.8" cy="414.5" r="3.1" fill="url(#gsph)"/>
<path d="M490.7,397.5 C492.3,398.9 499.9,403.9 500.3,405.9 C500.7,407.9 492.9,408.5 493.1,409.5 C493.3,410.5 498.9,411.5 501.5,411.9 C504.1,412.3 507.8,411.1 508.6,411.9 C509.4,412.7 508.0,416.1 506.2,416.7 C504.4,417.3 498.5,414.9 497.9,415.5 C497.3,416.1 501.9,419.5 502.7,420.3" fill="none" stroke="#1d5e66" stroke-width="4.14" stroke-linecap="round" stroke-linejoin="round"/>
<path d="M490.7,397.5 C492.3,398.9 499.9,403.9 500.3,405.9 C500.7,407.9 492.9,408.5 493.1,409.5 C493.3,410.5 498.9,411.5 501.5,411.9 C504.1,412.3 507.8,411.1 508.6,411.9 C509.4,412.7 508.0,416.1 506.2,416.7 C504.4,417.3 498.5,414.9 497.9,415.5 C497.3,416.1 501.9,419.5 502.7,420.3" fill="none" stroke="#3fa0aa" stroke-width="3.60" stroke-linecap="round" stroke-linejoin="round"/>
<path d="M490.7,397.5 C492.3,398.9 499.9,403.9 500.3,405.9 C500.7,407.9 492.9,408.5 493.1,409.5 C493.3,410.5 498.9,411.5 501.5,411.9 C504.1,412.3 507.8,411.1 508.6,411.9 C509.4,412.7 508.0,416.1 506.2,416.7 C504.4,417.3 498.5,414.9 497.9,415.5 C497.3,416.1 501.9,419.5 502.7,420.3" fill="none" stroke="#2a7e87" stroke-width="1.98" stroke-linecap="round" stroke-linejoin="round" transform="translate(0.6,0.8)" opacity="0.8"/>
<path d="M490.7,397.5 C492.3,398.9 499.9,403.9 500.3,405.9 C500.7,407.9 492.9,408.5 493.1,409.5 C493.3,410.5 498.9,411.5 501.5,411.9 C504.1,412.3 507.8,411.1 508.6,411.9 C509.4,412.7 508.0,416.1 506.2,416.7 C504.4,417.3 498.5,414.9 497.9,415.5 C497.3,416.1 501.9,419.5 502.7,420.3" fill="none" stroke="#78d4dc" stroke-width="1.01" stroke-linecap="round" stroke-linejoin="round" transform="translate(-0.7,-0.9)" opacity="0.75"/>
<g stroke="#8a3a20" stroke-width="1"><line x1="508" y1="403" x2="514" y2="401"/><line x1="510" y1="402" x2="511" y2="406"/></g>
<circle cx="509" cy="402.5" r="0.9" fill="#dd2222"/><circle cx="513.5" cy="401" r="0.9" fill="#dd2222"/>
<path d="M628.6,392.7 C630.1,392.6 635.4,391.7 637.6,392.1 C639.9,392.5 641.4,394.5 642.1,395.0" fill="none" stroke="#1d5e66" stroke-width="1.84" stroke-linecap="round" stroke-linejoin="round"/>
<path d="M628.6,392.7 C630.1,392.6 635.4,391.7 637.6,392.1 C639.9,392.5 641.4,394.5 642.1,395.0" fill="none" stroke="#3fa0aa" stroke-width="1.30" stroke-linecap="round" stroke-linejoin="round"/>
<path d="M628.6,392.7 C630.1,392.6 635.4,391.7 637.6,392.1 C639.9,392.5 641.4,394.5 642.1,395.0" fill="none" stroke="#78d4dc" stroke-width="0.39" stroke-linecap="round" stroke-linejoin="round" opacity="0.5"/>
<path d="M635.3,400.6 C636.1,399.9 638.6,396.7 639.9,396.1 C641.2,395.5 642.9,396.1 643.3,397.2 C643.7,398.3 641.4,401.8 642.1,402.9 C642.9,404.0 646.7,404.6 647.8,404.0 C648.9,403.4 648.7,400.2 648.9,399.5" fill="none" stroke="#1d5e66" stroke-width="3.74" stroke-linecap="round" stroke-linejoin="round"/>
<path d="M635.3,400.6 C636.1,399.9 638.6,396.7 639.9,396.1 C641.2,395.5 642.9,396.1 643.3,397.2 C643.7,398.3 641.4,401.8 642.1,402.9 C642.9,404.0 646.7,404.6 647.8,404.0 C648.9,403.4 648.7,400.2 648.9,399.5" fill="none" stroke="#3fa0aa" stroke-width="3.20" stroke-linecap="round" stroke-linejoin="round"/>
<path d="M635.3,400.6 C636.1,399.9 638.6,396.7 639.9,396.1 C641.2,395.5 642.9,396.1 643.3,397.2 C643.7,398.3 641.4,401.8 642.1,402.9 C642.9,404.0 646.7,404.6 647.8,404.0 C648.9,403.4 648.7,400.2 648.9,399.5" fill="none" stroke="#78d4dc" stroke-width="0.96" stroke-linecap="round" stroke-linejoin="round" opacity="0.5"/>
<path d="M648.9,399.5 C648.9,398.2 648.1,393.3 648.9,391.6 C649.6,389.9 651.5,389.5 653.4,389.3 C655.3,389.1 658.5,389.6 660.2,390.4 C661.9,391.1 663.0,393.2 663.6,393.8" fill="none" stroke="#1d5e66" stroke-width="1.84" stroke-linecap="round" stroke-linejoin="round"/>
<path d="M648.9,399.5 C648.9,398.2 648.1,393.3 648.9,391.6 C649.6,389.9 651.5,389.5 653.4,389.3 C655.3,389.1 658.5,389.6 660.2,390.4 C661.9,391.1 663.0,393.2 663.6,393.8" fill="none" stroke="#3fa0aa" stroke-width="1.30" stroke-linecap="round" stroke-linejoin="round"/>
<path d="M648.9,399.5 C648.9,398.2 648.1,393.3 648.9,391.6 C649.6,389.9 651.5,389.5 653.4,389.3 C655.3,389.1 658.5,389.6 660.2,390.4 C661.9,391.1 663.0,393.2 663.6,393.8" fill="none" stroke="#78d4dc" stroke-width="0.39" stroke-linecap="round" stroke-linejoin="round" opacity="0.5"/>
<path d="M661.3,392.7 C661.7,394.0 664.1,399.1 663.6,400.6 C663.1,402.1 659.9,401.3 658.0,401.7 C656.1,402.1 652.9,402.1 652.3,402.9 C651.7,403.7 652.9,405.9 654.6,406.3 C656.3,406.7 661.8,404.2 662.5,405.1 C663.2,406.0 661.4,411.1 659.1,411.9 C656.8,412.6 651.2,409.6 648.9,409.6 C646.6,409.6 645.3,410.9 645.5,411.9 C645.7,412.8 649.2,414.7 650.0,415.3" fill="none" stroke="#1d5e66" stroke-width="3.94" stroke-linecap="round" stroke-linejoin="round"/>
<path d="M661.3,392.7 C661.7,394.0 664.1,399.1 663.6,400.6 C663.1,402.1 659.9,401.3 658.0,401.7 C656.1,402.1 652.9,402.1 652.3,402.9 C651.7,403.7 652.9,405.9 654.6,406.3 C656.3,406.7 661.8,404.2 662.5,405.1 C663.2,406.0 661.4,411.1 659.1,411.9 C656.8,412.6 651.2,409.6 648.9,409.6 C646.6,409.6 645.3,410.9 645.5,411.9 C645.7,412.8 649.2,414.7 650.0,415.3" fill="none" stroke="#3fa0aa" stroke-width="3.40" stroke-linecap="round" stroke-linejoin="round"/>
<path d="M661.3,392.7 C661.7,394.0 664.1,399.1 663.6,400.6 C663.1,402.1 659.9,401.3 658.0,401.7 C656.1,402.1 652.9,402.1 652.3,402.9 C651.7,403.7 652.9,405.9 654.6,406.3 C656.3,406.7 661.8,404.2 662.5,405.1 C663.2,406.0 661.4,411.1 659.1,411.9 C656.8,412.6 651.2,409.6 648.9,409.6 C646.6,409.6 645.3,410.9 645.5,411.9 C645.7,412.8 649.2,414.7 650.0,415.3" fill="none" stroke="#2a7e87" stroke-width="1.87" stroke-linecap="round" stroke-linejoin="round" transform="translate(0.6,0.8)" opacity="0.8"/>
<path d="M661.3,392.7 C661.7,394.0 664.1,399.1 663.6,400.6 C663.1,402.1 659.9,401.3 658.0,401.7 C656.1,402.1 652.9,402.1 652.3,402.9 C651.7,403.7 652.9,405.9 654.6,406.3 C656.3,406.7 661.8,404.2 662.5,405.1 C663.2,406.0 661.4,411.1 659.1,411.9 C656.8,412.6 651.2,409.6 648.9,409.6 C646.6,409.6 645.3,410.9 645.5,411.9 C645.7,412.8 649.2,414.7 650.0,415.3" fill="none" stroke="#78d4dc" stroke-width="0.95" stroke-linecap="round" stroke-linejoin="round" transform="translate(-0.7,-0.9)" opacity="0.75"/>
<path d="M647.0,415.0 C646.2,415.5 643.2,416.5 642.5,418.0 C641.8,419.5 642.1,422.8 643.0,424.0 C643.9,425.2 646.5,426.0 648.0,425.5 C649.5,425.0 651.7,422.6 652.0,421.0 C652.3,419.4 650.3,416.8 650.0,416.0" fill="none" stroke="#1d5e66" stroke-width="3.14" stroke-linecap="round" stroke-linejoin="round"/>
<path d="M647.0,415.0 C646.2,415.5 643.2,416.5 642.5,418.0 C641.8,419.5 642.1,422.8 643.0,424.0 C643.9,425.2 646.5,426.0 648.0,425.5 C649.5,425.0 651.7,422.6 652.0,421.0 C652.3,419.4 650.3,416.8 650.0,416.0" fill="none" stroke="#3fa0aa" stroke-width="2.60" stroke-linecap="round" stroke-linejoin="round"/>
<path d="M647.0,415.0 C646.2,415.5 643.2,416.5 642.5,418.0 C641.8,419.5 642.1,422.8 643.0,424.0 C643.9,425.2 646.5,426.0 648.0,425.5 C649.5,425.0 651.7,422.6 652.0,421.0 C652.3,419.4 650.3,416.8 650.0,416.0" fill="none" stroke="#78d4dc" stroke-width="0.78" stroke-linecap="round" stroke-linejoin="round" opacity="0.5"/>
<path d="M663.6,408.5 C664.7,406.2 668.0,396.9 670.4,395.0 C672.8,393.1 676.2,396.4 678.3,397.2 C680.4,397.9 682.2,398.2 682.8,399.5 C683.4,400.8 681.3,403.0 681.7,405.1 C682.1,407.2 684.2,409.2 685.1,411.9 C686.0,414.5 687.7,419.1 687.3,421.0 C686.9,422.9 684.3,423.2 682.8,423.2 C681.3,423.2 679.8,421.0 678.3,421.0 C676.8,421.0 675.7,423.2 673.8,423.2 C671.9,423.2 668.9,421.0 667.0,421.0 C665.1,421.0 664.0,423.4 662.5,423.2 C661.0,423.0 659.8,420.2 658.0,419.8 C656.2,419.4 653.0,420.8 652.0,421.0" fill="none" stroke="#1d5e66" stroke-width="1.74" stroke-linecap="round" stroke-linejoin="round"/>
<path d="M663.6,408.5 C664.7,406.2 668.0,396.9 670.4,395.0 C672.8,393.1 676.2,396.4 678.3,397.2 C680.4,397.9 682.2,398.2 682.8,399.5 C683.4,400.8 681.3,403.0 681.7,405.1 C682.1,407.2 684.2,409.2 685.1,411.9 C686.0,414.5 687.7,419.1 687.3,421.0 C686.9,422.9 684.3,423.2 682.8,423.2 C681.3,423.2 679.8,421.0 678.3,421.0 C676.8,421.0 675.7,423.2 673.8,423.2 C671.9,423.2 668.9,421.0 667.0,421.0 C665.1,421.0 664.0,423.4 662.5,423.2 C661.0,423.0 659.8,420.2 658.0,419.8 C656.2,419.4 653.0,420.8 652.0,421.0" fill="none" stroke="#3fa0aa" stroke-width="1.20" stroke-linecap="round" stroke-linejoin="round"/>
<path d="M663.6,408.5 C664.7,406.2 668.0,396.9 670.4,395.0 C672.8,393.1 676.2,396.4 678.3,397.2 C680.4,397.9 682.2,398.2 682.8,399.5 C683.4,400.8 681.3,403.0 681.7,405.1 C682.1,407.2 684.2,409.2 685.1,411.9 C686.0,414.5 687.7,419.1 687.3,421.0 C686.9,422.9 684.3,423.2 682.8,423.2 C681.3,423.2 679.8,421.0 678.3,421.0 C676.8,421.0 675.7,423.2 673.8,423.2 C671.9,423.2 668.9,421.0 667.0,421.0 C665.1,421.0 664.0,423.4 662.5,423.2 C661.0,423.0 659.8,420.2 658.0,419.8 C656.2,419.4 653.0,420.8 652.0,421.0" fill="none" stroke="#78d4dc" stroke-width="0.36" stroke-linecap="round" stroke-linejoin="round" opacity="0.5"/>
<circle cx="659.6" cy="415.9" r="2.9" fill="url(#gsph)"/>
<circle cx="659.1" cy="424.9" r="2.9" fill="url(#gsph)"/>
<circle cx="654" cy="430.6" r="2.9" fill="url(#gsph)"/>
<polygon points="518.60,485.20 547.00,503.40 532.90,503.40 542.20,528.30 528.00,528.30 518.80,503.40 505.00,503.40" fill="#000" stroke="#f00" stroke-width="1.6" stroke-linejoin="miter"/>
<polygon points="651.50,485.20 679.90,503.40 665.80,503.40 675.10,528.30 660.90,528.30 651.70,503.40 637.90,503.40" fill="#000" stroke="#f00" stroke-width="1.6" stroke-linejoin="miter"/>
<line x1="500" y1="510.15" x2="552" y2="510.15" stroke="#b0b0b0" stroke-width="1.2"/>
<line x1="633" y1="510.15" x2="685" y2="510.15" stroke="#b0b0b0" stroke-width="1.2"/>
<line x1="500" y1="474.62" x2="552" y2="474.62" stroke="#b0b0b0" stroke-width="1.2"/>
<line x1="633" y1="474.62" x2="685" y2="474.62" stroke="#b0b0b0" stroke-width="1.2"/>
<line x1="116.6" y1="456" x2="116.6" y2="493.3" stroke="#000" stroke-width="4.5"/>
<line x1="108.6" y1="456" x2="124.6" y2="456" stroke="#000" stroke-width="4.4"/>
<line x1="108.6" y1="493.3" x2="124.6" y2="493.3" stroke="#000" stroke-width="4.4"/>
<line x1="160.8" y1="550" x2="160.8" y2="560.6" stroke="#000" stroke-width="4.5"/>
<line x1="152.8" y1="550" x2="168.8" y2="550" stroke="#000" stroke-width="4.4"/>
<line x1="152.8" y1="560.6" x2="168.8" y2="560.6" stroke="#000" stroke-width="4.4"/>
<line x1="249.4" y1="354.6" x2="249.4" y2="408" stroke="#000" stroke-width="4.5"/>
<line x1="241.4" y1="354.6" x2="257.4" y2="354.6" stroke="#000" stroke-width="4.4"/>
<line x1="241.4" y1="408" x2="257.4" y2="408" stroke="#000" stroke-width="4.4"/>
<line x1="293.5" y1="547.5" x2="293.5" y2="556.2" stroke="#000" stroke-width="4.5"/>
<line x1="285.5" y1="547.5" x2="301.5" y2="547.5" stroke="#000" stroke-width="4.4"/>
<line x1="285.5" y1="556.2" x2="301.5" y2="556.2" stroke="#000" stroke-width="4.4"/>
<line x1="382.2" y1="512" x2="382.2" y2="525.7" stroke="#000" stroke-width="4.5"/>
<line x1="374.2" y1="512" x2="390.2" y2="512" stroke="#000" stroke-width="4.4"/>
<line x1="374.2" y1="525.7" x2="390.2" y2="525.7" stroke="#000" stroke-width="4.4"/>
<line x1="426.6" y1="531.8" x2="426.6" y2="536.4" stroke="#000" stroke-width="4.5"/>
<line x1="418.6" y1="531.8" x2="434.6" y2="531.8" stroke="#000" stroke-width="4.4"/>
<line x1="418.6" y1="536.4" x2="434.6" y2="536.4" stroke="#000" stroke-width="4.4"/>
<line x1="515.1" y1="533.2" x2="515.1" y2="549.2" stroke="#000" stroke-width="4.5"/>
<line x1="507.1" y1="533.2" x2="523.1" y2="533.2" stroke="#000" stroke-width="4.4"/>
<line x1="507.1" y1="549.2" x2="523.1" y2="549.2" stroke="#000" stroke-width="4.4"/>
<line x1="559" y1="558" x2="559" y2="566.8" stroke="#000" stroke-width="4.5"/>
<line x1="551" y1="558" x2="567" y2="558" stroke="#000" stroke-width="4.4"/>
<line x1="551" y1="566.8" x2="567" y2="566.8" stroke="#000" stroke-width="4.4"/>
<line x1="647.8" y1="564.4" x2="647.8" y2="574" stroke="#000" stroke-width="4.5"/>
<line x1="639.8" y1="564.4" x2="655.8" y2="564.4" stroke="#000" stroke-width="4.4"/>
<line x1="639.8" y1="574" x2="655.8" y2="574" stroke="#000" stroke-width="4.4"/>
<line x1="691.8" y1="568" x2="691.8" y2="574.2" stroke="#000" stroke-width="4.5"/>
<line x1="683.8" y1="568" x2="699.8" y2="568" stroke="#000" stroke-width="4.4"/>
<line x1="683.8" y1="574.2" x2="699.8" y2="574.2" stroke="#000" stroke-width="4.4"/>
<rect x="66" y="297" width="676.7" height="284.20000000000005" fill="none" stroke="#000" stroke-width="4.5"/>
<rect x="547.9" y="303.8" width="187.1" height="42.2" rx="3" fill="#fff" fill-opacity="0.9" stroke="#d0d0d0" stroke-width="1"/>
<rect x="552.4" y="310" width="26.8" height="9" fill="#4a67d8" stroke="#00007d" stroke-width="4.8"/>
<rect x="552.4" y="329.7" width="26.8" height="9" fill="#6a0a5e" stroke="#580a4f" stroke-width="4.8"/>
<text x="590.9" y="318.6" font-size="13.5" font-weight="normal" fill="#1a1a1a" text-anchor="start" textLength="96" lengthAdjust="spacingAndGlyphs" >Parallel Pulling</text>
<text x="590.9" y="338.3" font-size="13.5" font-weight="normal" fill="#1a1a1a" text-anchor="start" textLength="139" lengthAdjust="spacingAndGlyphs" >Perpendicular Pulling</text>
<text transform="translate(138.60,601.5) rotate(-5)" x="0" y="0" font-size="13.5" font-weight="bold" stroke="#000" stroke-width="0.45" text-anchor="middle" textLength="106" lengthAdjust="spacingAndGlyphs">Healthy Case 1</text>
<text transform="translate(271.50,601.5) rotate(-5)" x="0" y="0" font-size="13.5" font-weight="bold" stroke="#000" stroke-width="0.45" text-anchor="middle" textLength="106" lengthAdjust="spacingAndGlyphs">Healthy Case 2</text>
<text transform="translate(404.40,601.5) rotate(-5)" x="0" y="0" font-size="13.5" font-weight="bold" stroke="#000" stroke-width="0.45" text-anchor="middle" textLength="106" lengthAdjust="spacingAndGlyphs">Healthy Case 3</text>
<text transform="translate(537.30,601.5) rotate(-5)" x="0" y="0" font-size="13.5" font-weight="bold" stroke="#000" stroke-width="0.45" text-anchor="middle" textLength="114" lengthAdjust="spacingAndGlyphs">Glycated Case 1</text>
<text transform="translate(670.20,601.5) rotate(-5)" x="0" y="0" font-size="13.5" font-weight="bold" stroke="#000" stroke-width="0.45" text-anchor="middle" textLength="114" lengthAdjust="spacingAndGlyphs">Glycated Case 2</text>
</svg></body></html>
